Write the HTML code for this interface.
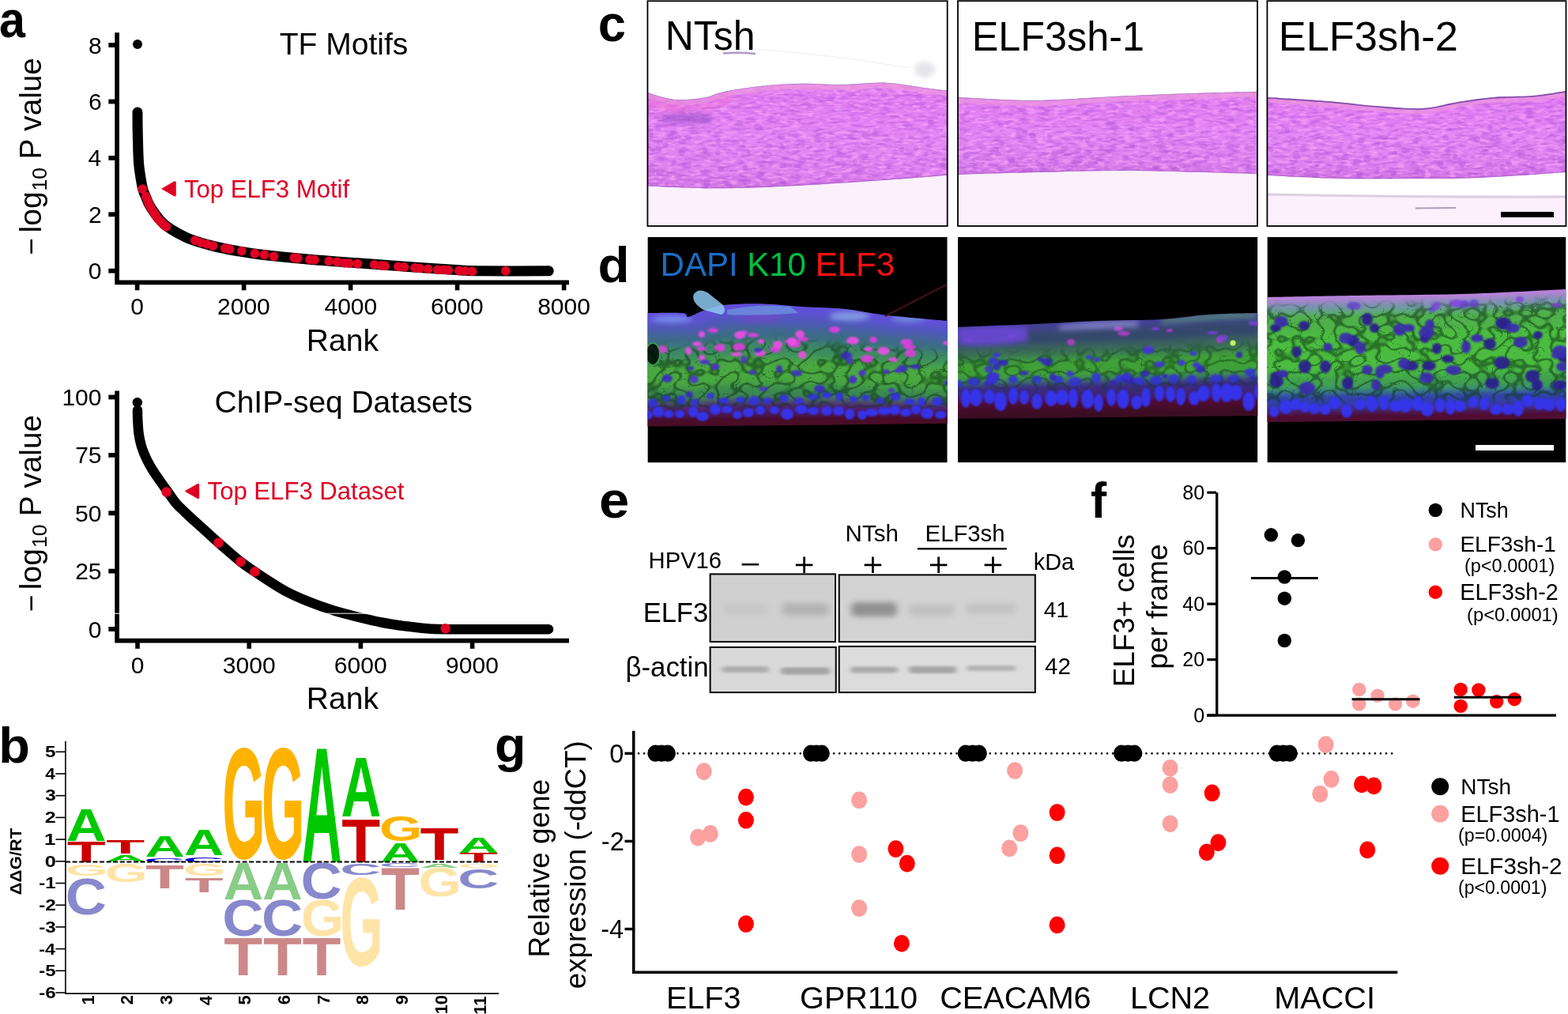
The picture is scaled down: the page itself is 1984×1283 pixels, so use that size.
<!DOCTYPE html>
<html><head><meta charset="utf-8"><title>Figure</title><style>
html,body{margin:0;padding:0;background:#fff;width:1984px;height:1283px;overflow:hidden}
svg{display:block}
text{font-family:"Liberation Sans",Arial,Helvetica,sans-serif}
</style></head><body>
<svg width="1984" height="1283" viewBox="0 0 1984 1283">
<rect width="1984" height="1283" fill="#fff"/>
<text transform="translate(-1.04,47.07) scale(0.5926,0.6443)" font-size="100" font-weight="bold" fill="#000">a</text>
<path d="M148.1,41.3V360.3M145.3,357.3H720" stroke="#000" stroke-width="5.7" fill="none"/>
<path d="M137.3,342.7H146" stroke="#000" stroke-width="5.8"/>
<text x="111.79" y="353.2" font-size="30">0</text>
<path d="M137.3,271.3H146" stroke="#000" stroke-width="5.8"/>
<text x="112.12" y="281.8" font-size="30">2</text>
<path d="M137.3,199.9H146" stroke="#000" stroke-width="5.8"/>
<text x="111.49" y="210.4" font-size="30">4</text>
<path d="M137.3,128.5H146" stroke="#000" stroke-width="5.8"/>
<text x="111.93" y="139" font-size="30">6</text>
<path d="M137.3,57.1H146" stroke="#000" stroke-width="5.8"/>
<text x="111.92" y="67.6" font-size="30">8</text>
<path d="M173.6,359V367.3" stroke="#000" stroke-width="5.6"/>
<text x="165.26" y="398.4" font-size="30">0</text>
<path d="M308.6,359V367.3" stroke="#000" stroke-width="5.6"/>
<text x="275.06" y="398.4" font-size="30">2000</text>
<path d="M443.6,359V367.3" stroke="#000" stroke-width="5.6"/>
<text x="410.47" y="398.4" font-size="30">4000</text>
<path d="M578.6,359V367.3" stroke="#000" stroke-width="5.6"/>
<text x="545.06" y="398.4" font-size="30">6000</text>
<path d="M713.6,359V367.3" stroke="#000" stroke-width="5.6"/>
<text x="680.16" y="398.4" font-size="30">8000</text>
<text x="387.85" y="444.3" font-size="39">Rank</text>
<text x="353.72" y="69.2" font-size="39">TF Motifs</text>
<text transform="translate(52.1,322.82) rotate(-90)" font-size="37">−</text>
<text transform="translate(52.1,294.43) rotate(-90)" font-size="39">log</text>
<text transform="translate(58.7,241.53) rotate(-90)" font-size="26.6">10</text>
<text transform="translate(52.1,201.57) rotate(-90)" font-size="38.7">P value</text>
<path d="M174,142 C174.02,145.17 173.97,153 174.1,161 C174.23,169 174.55,182.33 174.8,190 C175.05,197.67 175.15,201.67 175.6,207 C176.05,212.33 176.67,216.7 177.5,222 C178.33,227.3 179.43,234.3 180.6,238.8 C181.77,243.3 183.13,245.63 184.5,249 C185.87,252.37 186.98,255.62 188.8,259 C190.62,262.38 193.03,265.97 195.4,269.3 C197.77,272.63 200.48,276.23 203,279 C205.52,281.77 206.83,283.23 210.5,285.9 C214.17,288.57 219.97,292.22 225,295 C230.03,297.78 233.03,299.83 240.7,302.6 C248.37,305.37 261.12,309.12 271,311.6 C280.88,314.08 289.93,315.73 300,317.5 C310.07,319.27 316.08,320.4 331.4,322.2 C346.72,324 371.73,326.53 391.9,328.3 C412.07,330.07 432.23,331.3 452.4,332.8 C472.57,334.3 492.75,335.88 512.9,337.3 C533.05,338.72 558.18,340.38 573.3,341.3 C588.42,342.22 583.43,342.55 603.6,342.8 C623.77,343.05 679.18,342.8 694.3,342.8" stroke="#000" stroke-width="13" fill="none" stroke-linecap="round" stroke-linejoin="round"/>
<circle cx="174" cy="55.9" r="6"/>
<circle cx="180.24" cy="239.07" r="5.9" fill="#df0024"/>
<circle cx="184.77" cy="248.75" r="5.9" fill="#df0024"/>
<circle cx="186.89" cy="254.19" r="5.9" fill="#df0024"/>
<circle cx="188.71" cy="258.73" r="5.9" fill="#df0024"/>
<circle cx="191.12" cy="263.26" r="5.9" fill="#df0024"/>
<circle cx="193.85" cy="267.8" r="5.9" fill="#df0024"/>
<circle cx="196.87" cy="272.33" r="5.9" fill="#df0024"/>
<circle cx="199.89" cy="276.87" r="5.9" fill="#df0024"/>
<circle cx="203.83" cy="280.8" r="5.9" fill="#df0024"/>
<circle cx="208.06" cy="285.03" r="5.9" fill="#df0024"/>
<circle cx="210.48" cy="286.85" r="5.9" fill="#df0024"/>
<circle cx="246.76" cy="304.09" r="5.9" fill="#df0024"/>
<circle cx="254.32" cy="306.81" r="5.9" fill="#df0024"/>
<circle cx="261.88" cy="308.92" r="5.9" fill="#df0024"/>
<circle cx="269.44" cy="311.04" r="5.9" fill="#df0024"/>
<circle cx="284.56" cy="314.06" r="5.9" fill="#df0024"/>
<circle cx="290.61" cy="315.27" r="5.9" fill="#df0024"/>
<circle cx="305.73" cy="317.69" r="5.9" fill="#df0024"/>
<circle cx="322.36" cy="320.72" r="5.9" fill="#df0024"/>
<circle cx="334.46" cy="322.23" r="5.9" fill="#df0024"/>
<circle cx="346.55" cy="324.35" r="5.9" fill="#df0024"/>
<circle cx="372.26" cy="326.16" r="5.9" fill="#df0024"/>
<circle cx="376.79" cy="326.76" r="5.9" fill="#df0024"/>
<circle cx="391.91" cy="328.28" r="5.9" fill="#df0024"/>
<circle cx="397.96" cy="328.88" r="5.9" fill="#df0024"/>
<circle cx="416.1" cy="330.39" r="5.9" fill="#df0024"/>
<circle cx="426.69" cy="331.3" r="5.9" fill="#df0024"/>
<circle cx="435.76" cy="332.81" r="5.9" fill="#df0024"/>
<circle cx="441.81" cy="333.11" r="5.9" fill="#df0024"/>
<circle cx="452.39" cy="333.72" r="5.9" fill="#df0024"/>
<circle cx="473.56" cy="334.93" r="5.9" fill="#df0024"/>
<circle cx="482.63" cy="335.84" r="5.9" fill="#df0024"/>
<circle cx="487.16" cy="336.44" r="5.9" fill="#df0024"/>
<circle cx="503.79" cy="337.35" r="5.9" fill="#df0024"/>
<circle cx="511.35" cy="337.95" r="5.9" fill="#df0024"/>
<circle cx="524.96" cy="338.86" r="5.9" fill="#df0024"/>
<circle cx="531.01" cy="339.46" r="5.9" fill="#df0024"/>
<circle cx="541.59" cy="340.37" r="5.9" fill="#df0024"/>
<circle cx="553.69" cy="341.28" r="5.9" fill="#df0024"/>
<circle cx="561.25" cy="341.28" r="5.9" fill="#df0024"/>
<circle cx="567.3" cy="341.88" r="5.9" fill="#df0024"/>
<circle cx="580.9" cy="342.49" r="5.9" fill="#df0024"/>
<circle cx="588.46" cy="342.79" r="5.9" fill="#df0024"/>
<circle cx="597.54" cy="343.4" r="5.9" fill="#df0024"/>
<circle cx="639.87" cy="342.79" r="5.9" fill="#df0024"/>
<path d="M205.5,238.9L220.6,230.2Q222,229.5 222,231V246.8Q222,248.3 220.6,247.6Z" fill="#df0024" stroke="#df0024" stroke-width="1.5" stroke-linejoin="round"/>
<text x="233" y="249.6" font-size="31.1" fill="#df0024">Top ELF3 Motif</text>
<path d="M148.1,494.4V813.6M145.3,810.7H720" stroke="#000" stroke-width="5.7" fill="none"/>
<path d="M137.3,796H146" stroke="#000" stroke-width="5.8"/>
<text x="111.79" y="806.5" font-size="30">0</text>
<path d="M137.3,722.62H146" stroke="#000" stroke-width="5.8"/>
<text x="95.19" y="733.12" font-size="30">25</text>
<path d="M137.3,649.25H146" stroke="#000" stroke-width="5.8"/>
<text x="95.1" y="659.75" font-size="30">50</text>
<path d="M137.3,575.88H146" stroke="#000" stroke-width="5.8"/>
<text x="95.19" y="586.38" font-size="30">75</text>
<path d="M137.3,502.5H146" stroke="#000" stroke-width="5.8"/>
<text x="78.42" y="513" font-size="30">100</text>
<path d="M174,812V820.8" stroke="#000" stroke-width="5.6"/>
<text x="165.66" y="851.7" font-size="30">0</text>
<path d="M315.2,812V820.8" stroke="#000" stroke-width="5.6"/>
<text x="281.85" y="851.7" font-size="30">3000</text>
<path d="M456.4,812V820.8" stroke="#000" stroke-width="5.6"/>
<text x="422.86" y="851.7" font-size="30">6000</text>
<path d="M597.6,812V820.8" stroke="#000" stroke-width="5.6"/>
<text x="564.11" y="851.7" font-size="30">9000</text>
<text x="387.85" y="896.8" font-size="39">Rank</text>
<text x="271.62" y="522" font-size="38.9">ChIP-seq Datasets</text>
<text transform="translate(52.1,774.22) rotate(-90)" font-size="37">−</text>
<text transform="translate(52.1,746.13) rotate(-90)" font-size="39">log</text>
<text transform="translate(58.7,693.03) rotate(-90)" font-size="26.6">10</text>
<text transform="translate(52.1,653.37) rotate(-90)" font-size="38.7">P value</text>
<path d="M174,519 C174.03,520.83 173.95,525.17 174.2,530 C174.45,534.83 174.78,542.5 175.5,548 C176.22,553.5 177.35,558.67 178.5,563 C179.65,567.33 180.98,570.5 182.4,574 C183.82,577.5 185.32,580.72 187,584 C188.68,587.28 190.33,590.2 192.5,593.7 C194.67,597.2 196.97,600.62 200,605 C203.03,609.38 206.88,614.67 210.7,620 C214.52,625.33 219.18,632.5 222.9,637 C226.62,641.5 229.62,643.73 233,647 C236.38,650.27 238.13,651.97 243.2,656.6 C248.27,661.23 256.65,668.73 263.4,674.8 C270.15,680.87 276.9,687.05 283.7,693 C290.5,698.95 297.75,705.43 304.2,710.5 C310.65,715.57 316.43,719.32 322.4,723.4 C328.37,727.48 333.45,730.87 340,735 C346.55,739.13 353.37,743.87 361.7,748.2 C370.03,752.53 379.95,756.97 390,761 C400.05,765.03 411.67,769.15 422,772.4 C432.33,775.65 441.9,777.98 452,780.5 C462.1,783.02 472.43,785.53 482.6,787.5 C492.77,789.47 502.93,790.97 513,792.3 C523.07,793.63 533.5,794.85 543,795.5 C552.5,796.15 544.83,796.08 570,796.2 C595.17,796.32 673.33,796.2 694,796.2" stroke="#000" stroke-width="12.5" fill="none" stroke-linecap="round" stroke-linejoin="round"/>
<circle cx="173.8" cy="509.2" r="6.2"/>
<path d="M140,776.2H480" stroke="#fff" stroke-width="1"/>
<circle cx="210.6" cy="622.5" r="6.3" fill="#df0024"/>
<circle cx="276.5" cy="686.8" r="6.3" fill="#df0024"/>
<circle cx="304.4" cy="710.9" r="6.3" fill="#df0024"/>
<circle cx="322.4" cy="723.4" r="6.3" fill="#df0024"/>
<circle cx="563.7" cy="795.2" r="6.3" fill="#df0024"/>
<path d="M235,621.5L250,612.8Q251.4,612 251.4,613.6V629.4Q251.4,631 250,630.2Z" fill="#df0024" stroke="#df0024" stroke-width="1.5" stroke-linejoin="round"/>
<text x="262.6" y="632.4" font-size="31.1" fill="#df0024">Top ELF3 Dataset</text>
<text transform="translate(-1.68,964.59) scale(0.6489,0.6277)" font-size="100" font-weight="bold" fill="#000">b</text>
<path d="M82.9,937.8V1257.6M82.2,1257.1H631.2" stroke="#000" stroke-width="1.6" fill="none"/>
<path d="M70.4,1256H83" stroke="#000" stroke-width="1.6"/>
<text transform="translate(49.15,1262.71) scale(0.2420,0.1992)" font-size="100" font-weight="bold" fill="#000">-6</text>
<path d="M70.4,1228.3H83" stroke="#000" stroke-width="1.6"/>
<text transform="translate(49.16,1235) scale(0.2396,0.2021)" font-size="100" font-weight="bold" fill="#000">-5</text>
<path d="M70.4,1200.6H83" stroke="#000" stroke-width="1.6"/>
<text transform="translate(49.19,1207.5) scale(0.2332,0.2049)" font-size="100" font-weight="bold" fill="#000">-4</text>
<path d="M70.4,1172.9H83" stroke="#000" stroke-width="1.6"/>
<text transform="translate(49.15,1179.58) scale(0.2420,0.1987)" font-size="100" font-weight="bold" fill="#000">-3</text>
<path d="M70.4,1145.2H83" stroke="#000" stroke-width="1.6"/>
<text transform="translate(49.15,1152.1) scale(0.2432,0.2019)" font-size="100" font-weight="bold" fill="#000">-2</text>
<path d="M70.4,1117.5H83" stroke="#000" stroke-width="1.6"/>
<text transform="translate(49.16,1124.4) scale(0.2396,0.2049)" font-size="100" font-weight="bold" fill="#000">-1</text>
<path d="M70.4,1089.8H83" stroke="#000" stroke-width="1.6"/>
<text transform="translate(56.69,1096.51) scale(0.2544,0.1992)" font-size="100" font-weight="bold" fill="#000">0</text>
<path d="M70.4,1062.1H83" stroke="#000" stroke-width="1.6"/>
<text transform="translate(56.06,1069) scale(0.2600,0.2049)" font-size="100" font-weight="bold" fill="#000">1</text>
<path d="M70.4,1034.4H83" stroke="#000" stroke-width="1.6"/>
<text transform="translate(56.83,1041.3) scale(0.2513,0.2019)" font-size="100" font-weight="bold" fill="#000">2</text>
<path d="M70.4,1006.7H83" stroke="#000" stroke-width="1.6"/>
<text transform="translate(57.14,1013.38) scale(0.2434,0.1987)" font-size="100" font-weight="bold" fill="#000">3</text>
<path d="M70.4,979H83" stroke="#000" stroke-width="1.6"/>
<text transform="translate(57.36,985.9) scale(0.2259,0.2049)" font-size="100" font-weight="bold" fill="#000">4</text>
<path d="M70.4,951.3H83" stroke="#000" stroke-width="1.6"/>
<text transform="translate(56.95,958) scale(0.2432,0.2021)" font-size="100" font-weight="bold" fill="#000">5</text>
<text transform="translate(27.4,1132.5) rotate(-90) scale(0.2220,0.2014)" font-size="100" font-weight="bold">ΔΔG/RT</text>
<text transform="translate(83.85,1063.8) scale(0.7035,0.5741)" font-size="100" font-weight="bold" fill="#00c800">A</text>
<text transform="translate(84.7,1090.6) scale(0.8015,0.3619)" font-size="100" font-weight="bold" fill="#cc0000">T</text>
<text transform="translate(82.73,1107.6) scale(0.6995,0.2090)" font-size="100" font-weight="bold" fill="#ffe4a8">G</text>
<text transform="translate(82.64,1156.56) scale(0.7219,0.6539)" font-size="100" font-weight="bold" fill="#8888cc">C</text>
<text transform="translate(134.35,1079.7) scale(0.8015,0.2311)" font-size="100" font-weight="bold" fill="#cc0000">T</text>
<text transform="translate(133.5,1089.8) scale(0.7035,0.1134)" font-size="100" font-weight="bold" fill="#00c800">A</text>
<text transform="translate(132.38,1115.98) scale(0.6995,0.3291)" font-size="100" font-weight="bold" fill="#ffe4a8">G</text>
<text transform="translate(183.15,1084.4) scale(0.7035,0.3677)" font-size="100" font-weight="bold" fill="#00c800">A</text>
<text transform="translate(181.94,1090.53) scale(0.7219,0.0763)" font-size="100" font-weight="bold" fill="#0000cc">C</text>
<text transform="translate(184,1124.1) scale(0.8015,0.4302)" font-size="100" font-weight="bold" fill="#cc8888">T</text>
<text transform="translate(232.8,1082) scale(0.7035,0.4535)" font-size="100" font-weight="bold" fill="#00c800">A</text>
<text transform="translate(231.59,1090.5) scale(0.7219,0.0989)" font-size="100" font-weight="bold" fill="#0000cc">C</text>
<text transform="translate(231.68,1108.29) scale(0.6995,0.2189)" font-size="100" font-weight="bold" fill="#ffe4a8">G</text>
<text transform="translate(233.65,1129.4) scale(0.8015,0.2631)" font-size="100" font-weight="bold" fill="#cc8888">T</text>
<text transform="translate(281.33,1085.95) scale(0.6995,2.0000)" font-size="100" font-weight="bold" fill="#ffb300">G</text>
<text transform="translate(282.45,1137.5) scale(0.7035,0.6686)" font-size="100" font-weight="bold" fill="#88cc88">A</text>
<text transform="translate(281.24,1184.37) scale(0.7219,0.6469)" font-size="100" font-weight="bold" fill="#8888cc">C</text>
<text transform="translate(283.3,1234.2) scale(0.8015,0.6904)" font-size="100" font-weight="bold" fill="#cc8888">T</text>
<text transform="translate(330.98,1085.95) scale(0.6995,2.0000)" font-size="100" font-weight="bold" fill="#ffb300">G</text>
<text transform="translate(332.1,1137.5) scale(0.7035,0.6686)" font-size="100" font-weight="bold" fill="#88cc88">A</text>
<text transform="translate(330.89,1184.37) scale(0.7219,0.6469)" font-size="100" font-weight="bold" fill="#8888cc">C</text>
<text transform="translate(332.95,1234.2) scale(0.8015,0.6904)" font-size="100" font-weight="bold" fill="#cc8888">T</text>
<text transform="translate(381.75,1090.6) scale(0.7035,2.0713)" font-size="100" font-weight="bold" fill="#00c800">A</text>
<text transform="translate(380.54,1136.87) scale(0.7219,0.6441)" font-size="100" font-weight="bold" fill="#8888cc">C</text>
<text transform="translate(380.63,1184.37) scale(0.6995,0.6469)" font-size="100" font-weight="bold" fill="#ffe4a8">G</text>
<text transform="translate(382.6,1234.2) scale(0.8015,0.6904)" font-size="100" font-weight="bold" fill="#cc8888">T</text>
<text transform="translate(431.4,1033.1) scale(0.7035,1.0843)" font-size="100" font-weight="bold" fill="#00c800">A</text>
<text transform="translate(432.25,1090.6) scale(0.8015,0.7776)" font-size="100" font-weight="bold" fill="#cc0000">T</text>
<text transform="translate(430.19,1106.7) scale(0.7219,0.2048)" font-size="100" font-weight="bold" fill="#8888cc">C</text>
<text transform="translate(430.28,1221.14) scale(0.6995,1.5960)" font-size="100" font-weight="bold" fill="#ffe4a8">G</text>
<text transform="translate(479.93,1063.86) scale(0.6995,0.4491)" font-size="100" font-weight="bold" fill="#ffb300">G</text>
<text transform="translate(481.05,1090.6) scale(0.7035,0.3503)" font-size="100" font-weight="bold" fill="#00c800">A</text>
<text transform="translate(479.84,1096.94) scale(0.7219,0.0650)" font-size="100" font-weight="bold" fill="#8888cc">C</text>
<text transform="translate(481.9,1150.7) scale(0.8015,0.7544)" font-size="100" font-weight="bold" fill="#cc8888">T</text>
<text transform="translate(531.55,1087.9) scale(0.8015,0.5800)" font-size="100" font-weight="bold" fill="#cc0000">T</text>
<text transform="translate(530.7,1097.8) scale(0.7035,0.0785)" font-size="100" font-weight="bold" fill="#88cc88">A</text>
<text transform="translate(529.58,1133.8) scale(0.6995,0.5099)" font-size="100" font-weight="bold" fill="#ffe4a8">G</text>
<text transform="translate(580.35,1078.8) scale(0.7035,0.2849)" font-size="100" font-weight="bold" fill="#00c800">A</text>
<text transform="translate(581.2,1090.6) scale(0.8015,0.1584)" font-size="100" font-weight="bold" fill="#cc0000">T</text>
<text transform="translate(579.23,1097.74) scale(0.6995,0.0636)" font-size="100" font-weight="bold" fill="#ffe4a8">G</text>
<text transform="translate(579.14,1124.06) scale(0.7219,0.3475)" font-size="100" font-weight="bold" fill="#8888cc">C</text>
<path d="M83,1090.4H630" stroke="#000" stroke-width="2" stroke-dasharray="6,2.6"/>
<text transform="translate(118.7,1271.42) rotate(-90)" font-size="22" font-weight="bold">1</text>
<text transform="translate(168.35,1271.15) rotate(-90)" font-size="22" font-weight="bold">2</text>
<text transform="translate(218,1271.24) rotate(-90)" font-size="22" font-weight="bold">3</text>
<text transform="translate(267.65,1271.92) rotate(-90)" font-size="22" font-weight="bold">4</text>
<text transform="translate(317.3,1271.42) rotate(-90)" font-size="22" font-weight="bold">5</text>
<text transform="translate(366.95,1271.24) rotate(-90)" font-size="22" font-weight="bold">6</text>
<text transform="translate(416.6,1271.07) rotate(-90)" font-size="22" font-weight="bold">7</text>
<text transform="translate(466.25,1271.36) rotate(-90)" font-size="22" font-weight="bold">8</text>
<text transform="translate(515.9,1271.22) rotate(-90)" font-size="22" font-weight="bold">9</text>
<text transform="translate(565.55,1283.37) rotate(-90)" font-size="22" font-weight="bold">10</text>
<text transform="translate(615.2,1283.66) rotate(-90)" font-size="22" font-weight="bold">11</text>
<defs><filter id="heP" x="0" y="0" width="1" height="1" color-interpolation-filters="sRGB">
<feTurbulence type="fractalNoise" baseFrequency="0.07 0.26" numOctaves="2" seed="4"/>
<feColorMatrix type="matrix" values="0 0 0 0 0.70  0 0 0 0 0.34  0 0 0 0 0.84  4 0 0 0 -1.75"/></filter>
<filter id="heL" x="0" y="0" width="1" height="1" color-interpolation-filters="sRGB">
<feTurbulence type="fractalNoise" baseFrequency="0.09 0.3" numOctaves="2" seed="9"/>
<feColorMatrix type="matrix" values="0 0 0 0 0.97  0 0 0 0 0.64  0 0 0 0 0.99  4 0 0 0 -1.9"/></filter>
<filter id="ifG" x="0" y="0" width="1" height="1" color-interpolation-filters="sRGB">
<feTurbulence type="turbulence" baseFrequency="0.055 0.07" numOctaves="1" seed="5"/>
<feColorMatrix type="matrix" values="0 0 0 0 0.05  0 0 0 0 0.22  0 0 0 0 0.08  -9 0 0 0 1.3"/></filter>
<filter id="ifD" x="0" y="0" width="1" height="1" color-interpolation-filters="sRGB">
<feTurbulence type="fractalNoise" baseFrequency="0.09 0.11" numOctaves="2" seed="7"/>
<feColorMatrix type="matrix" values="0 0 0 0 0.05  0 0 0 0 0.2  0 0 0 0 0.1  4 0 0 0 -1.8"/></filter>
<filter id="soft"><feGaussianBlur stdDeviation="1"/></filter>
<filter id="bl3" x="-20%" y="-50%" width="140%" height="200%"><feGaussianBlur stdDeviation="3"/></filter>
<filter id="bl5" x="-5%" y="-20%" width="110%" height="140%"><feGaussianBlur stdDeviation="5"/></filter></defs>
<text transform="translate(756.63,52.16) scale(0.6335,0.6516)" font-size="100" font-weight="bold" fill="#000">c</text>
<clipPath id="cc1"><rect x="819.4" y="1.3" width="379.3" height="284.7"/></clipPath>
<g clip-path="url(#cc1)">
<rect x="819.4" y="1.3" width="379.3" height="284.7" fill="#fff"/>
<rect x="819.4" y="215.8" width="379.3" height="70.2" fill="#fbf0fb"/>
<path d="M915,67.5 Q935,66 956,68" stroke="#9a80c0" stroke-width="2.5" fill="none" opacity="0.8"/><ellipse cx="1170" cy="88" rx="13" ry="10" fill="#d8d8e0" opacity="0.7" filter="url(#bl3)"/><path d="M955,62 Q1060,70 1150,86" stroke="#f2f2f5" stroke-width="1.5" fill="none"/>
<linearGradient id="hg1" x1="0" y1="0" x2="0" y2="1"><stop offset="0" stop-color="#ee90f0"/><stop offset="0.12" stop-color="#e27cf2"/><stop offset="0.5" stop-color="#e486f6"/><stop offset="0.85" stop-color="#de82f0"/><stop offset="1" stop-color="#d074e4"/></linearGradient>
<path d="M819,117 C824.73,118.5 841.37,124.92 853.4,126 C865.43,127.08 880.7,125.17 891.2,123.5 C901.7,121.83 903.8,118.52 916.4,116 C929,113.48 950,110.1 966.8,108.4 C983.6,106.7 1000.4,106.02 1017.2,105.8 C1034,105.58 1050.8,107.3 1067.6,107.1 C1084.4,106.9 1101.2,103.97 1118,104.6 C1134.8,105.23 1154.9,109.22 1168.4,110.9 C1181.9,112.58 1193.9,114.07 1199,114.7 L1199,221.8 C1185.5,222.85 1144.1,226.22 1118,228.1 C1091.9,229.98 1067.6,231.63 1042.4,233.1 C1017.2,234.57 992,236.05 966.8,236.9 C941.6,237.75 915.83,238.42 891.2,238.2 C866.57,237.98 831.03,236.03 819,235.6Z" fill="url(#hg1)"/>
<clipPath id="tc1"><path d="M819,117 C824.73,118.5 841.37,124.92 853.4,126 C865.43,127.08 880.7,125.17 891.2,123.5 C901.7,121.83 903.8,118.52 916.4,116 C929,113.48 950,110.1 966.8,108.4 C983.6,106.7 1000.4,106.02 1017.2,105.8 C1034,105.58 1050.8,107.3 1067.6,107.1 C1084.4,106.9 1101.2,103.97 1118,104.6 C1134.8,105.23 1154.9,109.22 1168.4,110.9 C1181.9,112.58 1193.9,114.07 1199,114.7 L1199,221.8 C1185.5,222.85 1144.1,226.22 1118,228.1 C1091.9,229.98 1067.6,231.63 1042.4,233.1 C1017.2,234.57 992,236.05 966.8,236.9 C941.6,237.75 915.83,238.42 891.2,238.2 C866.57,237.98 831.03,236.03 819,235.6Z"/></clipPath><g clip-path="url(#tc1)">
<rect x="819.4" y="104.6" width="379.3" height="133.6" filter="url(#heP)" opacity="0.5"/>
<rect x="819.4" y="104.6" width="379.3" height="133.6" filter="url(#heL)" opacity="0.7"/>
<g fill="#a850d0" opacity="0.3"><ellipse cx="991" cy="207" rx="4" ry="3"/><ellipse cx="1012" cy="208" rx="3" ry="4"/><ellipse cx="1000" cy="210" rx="3" ry="2"/><ellipse cx="989" cy="173" rx="5" ry="4"/><ellipse cx="1060" cy="207" rx="4" ry="3"/><ellipse cx="1067" cy="208" rx="3" ry="4"/><ellipse cx="825" cy="208" rx="3" ry="2"/><ellipse cx="892" cy="191" rx="3" ry="3"/><ellipse cx="943" cy="212" rx="3" ry="4"/><ellipse cx="908" cy="193" rx="3" ry="4"/><ellipse cx="852" cy="218" rx="4" ry="4"/><ellipse cx="1197" cy="213" rx="5" ry="3"/><ellipse cx="939" cy="185" rx="4" ry="2"/><ellipse cx="846" cy="223" rx="4" ry="2"/><ellipse cx="1141" cy="189" rx="3" ry="4"/><ellipse cx="820" cy="184" rx="3" ry="3"/><ellipse cx="962" cy="218" rx="4" ry="2"/><ellipse cx="1034" cy="177" rx="5" ry="3"/><ellipse cx="947" cy="192" rx="3" ry="3"/><ellipse cx="1107" cy="166" rx="3" ry="4"/><ellipse cx="858" cy="173" rx="4" ry="2"/><ellipse cx="1078" cy="175" rx="5" ry="2"/><ellipse cx="1193" cy="209" rx="4" ry="4"/><ellipse cx="965" cy="197" rx="3" ry="2"/><ellipse cx="922" cy="234" rx="5" ry="3"/><ellipse cx="1198" cy="154" rx="3" ry="3"/><ellipse cx="1197" cy="201" rx="5" ry="2"/><ellipse cx="835" cy="180" rx="4" ry="3"/><ellipse cx="823" cy="213" rx="4" ry="3"/><ellipse cx="847" cy="176" rx="5" ry="4"/><ellipse cx="912" cy="214" rx="4" ry="4"/><ellipse cx="991" cy="231" rx="4" ry="4"/><ellipse cx="871" cy="202" rx="5" ry="2"/><ellipse cx="937" cy="185" rx="5" ry="2"/><ellipse cx="1095" cy="171" rx="5" ry="4"/><ellipse cx="894" cy="233" rx="4" ry="4"/><ellipse cx="849" cy="171" rx="3" ry="2"/><ellipse cx="1014" cy="183" rx="5" ry="4"/><ellipse cx="968" cy="199" rx="5" ry="3"/><ellipse cx="931" cy="181" rx="5" ry="2"/><ellipse cx="867" cy="208" rx="5" ry="4"/><ellipse cx="1052" cy="184" rx="3" ry="4"/><ellipse cx="826" cy="190" rx="4" ry="2"/><ellipse cx="842" cy="184" rx="4" ry="4"/><ellipse cx="1036" cy="170" rx="4" ry="2"/><ellipse cx="1157" cy="222" rx="5" ry="4"/><ellipse cx="1082" cy="205" rx="3" ry="4"/><ellipse cx="833" cy="162" rx="4" ry="4"/><ellipse cx="938" cy="161" rx="5" ry="4"/><ellipse cx="848" cy="173" rx="4" ry="3"/><ellipse cx="871" cy="174" rx="4" ry="4"/><ellipse cx="959" cy="161" rx="5" ry="4"/><ellipse cx="1086" cy="217" rx="4" ry="3"/><ellipse cx="852" cy="207" rx="3" ry="3"/><ellipse cx="1178" cy="155" rx="4" ry="4"/><ellipse cx="825" cy="216" rx="4" ry="4"/><ellipse cx="824" cy="170" rx="3" ry="4"/><ellipse cx="863" cy="193" rx="4" ry="4"/><ellipse cx="945" cy="231" rx="5" ry="4"/><ellipse cx="993" cy="201" rx="5" ry="2"/><ellipse cx="1016" cy="203" rx="4" ry="4"/><ellipse cx="853" cy="167" rx="5" ry="2"/><ellipse cx="1008" cy="210" rx="4" ry="3"/><ellipse cx="1159" cy="187" rx="3" ry="4"/><ellipse cx="1051" cy="202" rx="4" ry="4"/><ellipse cx="1172" cy="195" rx="3" ry="3"/><ellipse cx="973" cy="185" rx="5" ry="3"/><ellipse cx="1124" cy="212" rx="3" ry="2"/><ellipse cx="965" cy="210" rx="4" ry="2"/><ellipse cx="871" cy="209" rx="3" ry="4"/><ellipse cx="844" cy="233" rx="3" ry="2"/><ellipse cx="990" cy="186" rx="3" ry="3"/><ellipse cx="965" cy="206" rx="5" ry="3"/><ellipse cx="1091" cy="219" rx="5" ry="3"/><ellipse cx="941" cy="226" rx="4" ry="4"/><ellipse cx="835" cy="219" rx="5" ry="3"/><ellipse cx="937" cy="224" rx="3" ry="4"/><ellipse cx="871" cy="206" rx="3" ry="3"/><ellipse cx="909" cy="179" rx="3" ry="4"/><ellipse cx="863" cy="179" rx="5" ry="4"/><ellipse cx="1062" cy="191" rx="3" ry="4"/><ellipse cx="895" cy="227" rx="4" ry="2"/><ellipse cx="1090" cy="214" rx="5" ry="4"/><ellipse cx="833" cy="188" rx="4" ry="4"/></g>
<path d="M819,117 C824.73,118.5 841.37,124.92 853.4,126 C865.43,127.08 880.7,125.17 891.2,123.5 C901.7,121.83 903.8,118.52 916.4,116 C929,113.48 950,110.1 966.8,108.4 C983.6,106.7 1000.4,106.02 1017.2,105.8 C1034,105.58 1050.8,107.3 1067.6,107.1 C1084.4,106.9 1101.2,103.97 1118,104.6 C1134.8,105.23 1154.9,109.22 1168.4,110.9 C1181.9,112.58 1193.9,114.07 1199,114.7" stroke="#ec96e0" stroke-width="6" fill="none" opacity="0.7" transform="translate(0,4)"/>
<path d="M819,117 C824.73,118.5 841.37,124.92 853.4,126 C865.43,127.08 880.7,125.17 891.2,123.5 C901.7,121.83 903.8,118.52 916.4,116 C929,113.48 950,110.1 966.8,108.4 C983.6,106.7 1000.4,106.02 1017.2,105.8 C1034,105.58 1050.8,107.3 1067.6,107.1 C1084.4,106.9 1101.2,103.97 1118,104.6 C1134.8,105.23 1154.9,109.22 1168.4,110.9 C1181.9,112.58 1193.9,114.07 1199,114.7" stroke="#a08ab0" stroke-width="1.4" fill="none" opacity="0.85"/>
<g filter="url(#bl3)"><path d="M819,122 Q850,132 880,133 Q905,128 930,118 L930,128 Q900,140 860,142 Q835,140 819,134Z" fill="#f070d0" opacity="0.5"/><ellipse cx="868" cy="150" rx="36" ry="7" fill="#8a40c0" opacity="0.5"/></g>
<path d="M819,235.6 C831.03,236.03 866.57,237.98 891.2,238.2 C915.83,238.42 941.6,237.75 966.8,236.9 C992,236.05 1017.2,234.57 1042.4,233.1 C1067.6,231.63 1091.9,229.98 1118,228.1 C1144.1,226.22 1185.5,222.85 1199,221.8" stroke="#9a58b8" stroke-width="2.5" fill="none" opacity="0.5"/>
</g></g>
<rect x="819.4" y="1.3" width="379.3" height="284.7" fill="none" stroke="#000" stroke-width="1.8"/>
<text transform="translate(841.81,63.49) scale(0.4991,0.5188)" font-size="100" fill="#000">NTsh</text>
<clipPath id="cc2"><rect x="1212" y="1.2" width="379" height="284.8"/></clipPath>
<g clip-path="url(#cc2)">
<rect x="1212" y="1.2" width="379" height="284.8" fill="#fff"/>
<rect x="1212" y="210" width="379" height="76" fill="#fbf0fb"/>

<linearGradient id="hg2" x1="0" y1="0" x2="0" y2="1"><stop offset="0" stop-color="#ee90f0"/><stop offset="0.12" stop-color="#e27cf2"/><stop offset="0.5" stop-color="#e486f6"/><stop offset="0.85" stop-color="#de82f0"/><stop offset="1" stop-color="#d074e4"/></linearGradient>
<path d="M1211,123 C1227.5,123.67 1276.83,127.17 1310,127 C1343.17,126.83 1376.67,123.5 1410,122 C1443.33,120.5 1479.67,119 1510,118 C1540.33,117 1578.33,116.33 1592,116 L1592,220 C1565,219.33 1477,216.33 1430,216 C1383,215.67 1346.5,217.17 1310,218 C1273.5,218.83 1227.5,220.5 1211,221Z" fill="url(#hg2)"/>
<clipPath id="tc2"><path d="M1211,123 C1227.5,123.67 1276.83,127.17 1310,127 C1343.17,126.83 1376.67,123.5 1410,122 C1443.33,120.5 1479.67,119 1510,118 C1540.33,117 1578.33,116.33 1592,116 L1592,220 C1565,219.33 1477,216.33 1430,216 C1383,215.67 1346.5,217.17 1310,218 C1273.5,218.83 1227.5,220.5 1211,221Z"/></clipPath><g clip-path="url(#tc2)">
<rect x="1212" y="116" width="379" height="105" filter="url(#heP)" opacity="0.5"/>
<rect x="1212" y="116" width="379" height="105" filter="url(#heL)" opacity="0.7"/>
<g fill="#a850d0" opacity="0.3"><ellipse cx="1392" cy="201" rx="5" ry="3"/><ellipse cx="1266" cy="158" rx="4" ry="3"/><ellipse cx="1316" cy="209" rx="5" ry="4"/><ellipse cx="1298" cy="155" rx="5" ry="2"/><ellipse cx="1583" cy="186" rx="4" ry="2"/><ellipse cx="1234" cy="211" rx="3" ry="4"/><ellipse cx="1472" cy="183" rx="4" ry="2"/><ellipse cx="1219" cy="165" rx="5" ry="4"/><ellipse cx="1297" cy="216" rx="4" ry="3"/><ellipse cx="1255" cy="192" rx="3" ry="4"/><ellipse cx="1330" cy="200" rx="3" ry="4"/><ellipse cx="1548" cy="196" rx="5" ry="2"/><ellipse cx="1364" cy="190" rx="5" ry="3"/><ellipse cx="1393" cy="187" rx="3" ry="4"/><ellipse cx="1487" cy="214" rx="5" ry="3"/><ellipse cx="1347" cy="187" rx="5" ry="3"/><ellipse cx="1467" cy="167" rx="3" ry="3"/><ellipse cx="1350" cy="195" rx="5" ry="2"/><ellipse cx="1223" cy="211" rx="4" ry="2"/><ellipse cx="1409" cy="176" rx="4" ry="2"/><ellipse cx="1359" cy="206" rx="3" ry="4"/><ellipse cx="1296" cy="168" rx="4" ry="2"/><ellipse cx="1376" cy="193" rx="5" ry="4"/><ellipse cx="1487" cy="193" rx="4" ry="2"/><ellipse cx="1341" cy="192" rx="5" ry="3"/><ellipse cx="1303" cy="216" rx="4" ry="4"/><ellipse cx="1350" cy="176" rx="5" ry="2"/><ellipse cx="1558" cy="151" rx="4" ry="3"/><ellipse cx="1280" cy="209" rx="5" ry="2"/><ellipse cx="1306" cy="171" rx="4" ry="4"/><ellipse cx="1403" cy="157" rx="4" ry="4"/><ellipse cx="1527" cy="200" rx="3" ry="4"/><ellipse cx="1402" cy="192" rx="4" ry="3"/><ellipse cx="1471" cy="190" rx="5" ry="2"/><ellipse cx="1382" cy="199" rx="3" ry="3"/><ellipse cx="1337" cy="210" rx="5" ry="4"/><ellipse cx="1381" cy="207" rx="5" ry="3"/><ellipse cx="1409" cy="158" rx="3" ry="4"/><ellipse cx="1222" cy="199" rx="4" ry="3"/><ellipse cx="1264" cy="178" rx="4" ry="2"/><ellipse cx="1424" cy="198" rx="4" ry="2"/><ellipse cx="1370" cy="198" rx="4" ry="2"/><ellipse cx="1432" cy="184" rx="4" ry="4"/><ellipse cx="1491" cy="196" rx="3" ry="4"/><ellipse cx="1481" cy="211" rx="3" ry="2"/><ellipse cx="1557" cy="195" rx="4" ry="2"/><ellipse cx="1481" cy="173" rx="4" ry="4"/><ellipse cx="1472" cy="192" rx="5" ry="2"/><ellipse cx="1292" cy="200" rx="5" ry="3"/><ellipse cx="1432" cy="163" rx="4" ry="3"/><ellipse cx="1243" cy="187" rx="5" ry="2"/><ellipse cx="1485" cy="182" rx="3" ry="4"/><ellipse cx="1462" cy="212" rx="4" ry="2"/><ellipse cx="1223" cy="196" rx="4" ry="3"/><ellipse cx="1280" cy="203" rx="4" ry="3"/><ellipse cx="1302" cy="186" rx="3" ry="2"/><ellipse cx="1577" cy="186" rx="3" ry="4"/><ellipse cx="1376" cy="177" rx="3" ry="4"/><ellipse cx="1554" cy="183" rx="5" ry="3"/><ellipse cx="1359" cy="194" rx="5" ry="2"/><ellipse cx="1386" cy="206" rx="3" ry="2"/><ellipse cx="1366" cy="203" rx="4" ry="4"/><ellipse cx="1467" cy="201" rx="3" ry="4"/><ellipse cx="1428" cy="182" rx="5" ry="2"/><ellipse cx="1334" cy="195" rx="4" ry="4"/><ellipse cx="1328" cy="172" rx="3" ry="4"/><ellipse cx="1263" cy="195" rx="4" ry="3"/><ellipse cx="1320" cy="214" rx="5" ry="3"/><ellipse cx="1359" cy="210" rx="5" ry="3"/><ellipse cx="1268" cy="182" rx="3" ry="4"/><ellipse cx="1443" cy="206" rx="4" ry="3"/><ellipse cx="1446" cy="179" rx="4" ry="3"/><ellipse cx="1399" cy="212" rx="3" ry="2"/><ellipse cx="1511" cy="209" rx="3" ry="3"/><ellipse cx="1410" cy="161" rx="5" ry="4"/><ellipse cx="1523" cy="185" rx="5" ry="3"/><ellipse cx="1504" cy="210" rx="4" ry="2"/><ellipse cx="1496" cy="210" rx="5" ry="3"/><ellipse cx="1228" cy="211" rx="3" ry="2"/><ellipse cx="1287" cy="209" rx="3" ry="2"/><ellipse cx="1505" cy="195" rx="3" ry="4"/><ellipse cx="1557" cy="186" rx="4" ry="4"/><ellipse cx="1288" cy="170" rx="3" ry="4"/><ellipse cx="1260" cy="190" rx="4" ry="4"/></g>
<path d="M1211,123 C1227.5,123.67 1276.83,127.17 1310,127 C1343.17,126.83 1376.67,123.5 1410,122 C1443.33,120.5 1479.67,119 1510,118 C1540.33,117 1578.33,116.33 1592,116" stroke="#ec96e0" stroke-width="6" fill="none" opacity="0.7" transform="translate(0,4)"/>
<path d="M1211,123 C1227.5,123.67 1276.83,127.17 1310,127 C1343.17,126.83 1376.67,123.5 1410,122 C1443.33,120.5 1479.67,119 1510,118 C1540.33,117 1578.33,116.33 1592,116" stroke="#a08ab0" stroke-width="1.4" fill="none" opacity="0.85"/>

<path d="M1211,221 C1227.5,220.5 1273.5,218.83 1310,218 C1346.5,217.17 1383,215.67 1430,216 C1477,216.33 1565,219.33 1592,220" stroke="#9a58b8" stroke-width="2.5" fill="none" opacity="0.5"/>
</g></g>
<rect x="1212" y="1.2" width="379" height="284.8" fill="none" stroke="#000" stroke-width="1.8"/>
<text transform="translate(1229.77,64.09) scale(0.5035,0.5188)" font-size="100" fill="#000">ELF3sh-1</text>
<clipPath id="cc3"><rect x="1603.4" y="1.2" width="378.1" height="284.8"/></clipPath>
<g clip-path="url(#cc3)">
<rect x="1603.4" y="1.2" width="378.1" height="284.8" fill="#fff"/>
<rect x="1603.4" y="247" width="378.1" height="39" fill="#fbf0fb"/>
<path d="M1603,246 Q1800,250 1982,249" stroke="#dcd0e0" stroke-width="3" fill="none"/><path d="M1791,263.5 L1842,263" stroke="#8a7a9a" stroke-width="2" opacity="0.7"/>
<linearGradient id="hg3" x1="0" y1="0" x2="0" y2="1"><stop offset="0" stop-color="#ee90f0"/><stop offset="0.12" stop-color="#e27cf2"/><stop offset="0.5" stop-color="#e486f6"/><stop offset="0.85" stop-color="#de82f0"/><stop offset="1" stop-color="#d074e4"/></linearGradient>
<path d="M1603,123 C1615.83,123.83 1657.17,126.17 1680,128 C1702.83,129.83 1720,132.5 1740,134 C1760,135.5 1782.5,137.83 1800,137 C1817.5,136.17 1830,131.33 1845,129 C1860,126.67 1874.17,124.33 1890,123 C1905.83,121.67 1924.67,122.33 1940,121 C1955.33,119.67 1975,116 1982,115 L1982,218 C1963.5,219.17 1902.33,223.67 1871,225 C1839.67,226.33 1823,225.83 1794,226 C1765,226.17 1728.83,226.67 1697,226 C1665.17,225.33 1618.67,222.67 1603,222Z" fill="url(#hg3)"/>
<clipPath id="tc3"><path d="M1603,123 C1615.83,123.83 1657.17,126.17 1680,128 C1702.83,129.83 1720,132.5 1740,134 C1760,135.5 1782.5,137.83 1800,137 C1817.5,136.17 1830,131.33 1845,129 C1860,126.67 1874.17,124.33 1890,123 C1905.83,121.67 1924.67,122.33 1940,121 C1955.33,119.67 1975,116 1982,115 L1982,218 C1963.5,219.17 1902.33,223.67 1871,225 C1839.67,226.33 1823,225.83 1794,226 C1765,226.17 1728.83,226.67 1697,226 C1665.17,225.33 1618.67,222.67 1603,222Z"/></clipPath><g clip-path="url(#tc3)">
<rect x="1603.4" y="115" width="378.1" height="111" filter="url(#heP)" opacity="0.5"/>
<rect x="1603.4" y="115" width="378.1" height="111" filter="url(#heL)" opacity="0.7"/>
<g fill="#a850d0" opacity="0.3"><ellipse cx="1701" cy="211" rx="5" ry="2"/><ellipse cx="1850" cy="209" rx="3" ry="4"/><ellipse cx="1881" cy="174" rx="5" ry="2"/><ellipse cx="1885" cy="162" rx="3" ry="4"/><ellipse cx="1833" cy="164" rx="4" ry="2"/><ellipse cx="1636" cy="213" rx="4" ry="3"/><ellipse cx="1885" cy="220" rx="4" ry="3"/><ellipse cx="1925" cy="196" rx="5" ry="4"/><ellipse cx="1974" cy="202" rx="4" ry="4"/><ellipse cx="1722" cy="178" rx="5" ry="4"/><ellipse cx="1976" cy="202" rx="5" ry="4"/><ellipse cx="1886" cy="174" rx="5" ry="4"/><ellipse cx="1771" cy="184" rx="3" ry="2"/><ellipse cx="1801" cy="190" rx="4" ry="3"/><ellipse cx="1832" cy="196" rx="3" ry="4"/><ellipse cx="1789" cy="189" rx="3" ry="2"/><ellipse cx="1869" cy="176" rx="4" ry="4"/><ellipse cx="1841" cy="199" rx="3" ry="4"/><ellipse cx="1764" cy="219" rx="3" ry="2"/><ellipse cx="1792" cy="212" rx="4" ry="4"/><ellipse cx="1699" cy="213" rx="5" ry="3"/><ellipse cx="1938" cy="210" rx="3" ry="4"/><ellipse cx="1926" cy="189" rx="5" ry="4"/><ellipse cx="1655" cy="221" rx="5" ry="2"/><ellipse cx="1877" cy="181" rx="5" ry="2"/><ellipse cx="1823" cy="207" rx="4" ry="4"/><ellipse cx="1879" cy="190" rx="4" ry="2"/><ellipse cx="1666" cy="209" rx="3" ry="2"/><ellipse cx="1667" cy="196" rx="5" ry="4"/><ellipse cx="1909" cy="207" rx="4" ry="3"/><ellipse cx="1847" cy="202" rx="3" ry="3"/><ellipse cx="1649" cy="188" rx="4" ry="4"/><ellipse cx="1829" cy="174" rx="4" ry="4"/><ellipse cx="1742" cy="218" rx="3" ry="3"/><ellipse cx="1730" cy="202" rx="5" ry="4"/><ellipse cx="1915" cy="180" rx="3" ry="3"/><ellipse cx="1905" cy="191" rx="5" ry="2"/><ellipse cx="1883" cy="184" rx="5" ry="2"/><ellipse cx="1701" cy="206" rx="4" ry="2"/><ellipse cx="1827" cy="198" rx="5" ry="3"/><ellipse cx="1764" cy="193" rx="4" ry="2"/><ellipse cx="1629" cy="165" rx="3" ry="4"/><ellipse cx="1896" cy="178" rx="4" ry="4"/><ellipse cx="1751" cy="174" rx="5" ry="3"/><ellipse cx="1963" cy="170" rx="3" ry="2"/><ellipse cx="1743" cy="182" rx="4" ry="3"/><ellipse cx="1831" cy="190" rx="4" ry="2"/><ellipse cx="1641" cy="198" rx="5" ry="4"/><ellipse cx="1978" cy="157" rx="5" ry="3"/><ellipse cx="1652" cy="214" rx="4" ry="2"/><ellipse cx="1941" cy="198" rx="3" ry="2"/><ellipse cx="1942" cy="215" rx="5" ry="2"/><ellipse cx="1637" cy="219" rx="3" ry="3"/><ellipse cx="1703" cy="217" rx="3" ry="4"/><ellipse cx="1693" cy="217" rx="3" ry="4"/><ellipse cx="1901" cy="211" rx="3" ry="4"/><ellipse cx="1752" cy="173" rx="5" ry="2"/><ellipse cx="1647" cy="175" rx="5" ry="3"/><ellipse cx="1805" cy="193" rx="5" ry="3"/><ellipse cx="1702" cy="195" rx="3" ry="2"/><ellipse cx="1878" cy="172" rx="5" ry="3"/><ellipse cx="1931" cy="219" rx="5" ry="3"/><ellipse cx="1664" cy="222" rx="5" ry="4"/><ellipse cx="1868" cy="220" rx="3" ry="2"/><ellipse cx="1639" cy="194" rx="4" ry="3"/><ellipse cx="1751" cy="182" rx="3" ry="3"/><ellipse cx="1717" cy="204" rx="5" ry="3"/><ellipse cx="1708" cy="186" rx="3" ry="3"/><ellipse cx="1761" cy="224" rx="4" ry="3"/><ellipse cx="1702" cy="200" rx="5" ry="3"/><ellipse cx="1677" cy="194" rx="4" ry="2"/><ellipse cx="1614" cy="217" rx="4" ry="4"/><ellipse cx="1671" cy="174" rx="5" ry="2"/><ellipse cx="1720" cy="220" rx="4" ry="4"/><ellipse cx="1801" cy="218" rx="3" ry="4"/><ellipse cx="1885" cy="206" rx="4" ry="2"/><ellipse cx="1966" cy="155" rx="5" ry="2"/><ellipse cx="1716" cy="208" rx="5" ry="2"/><ellipse cx="1880" cy="195" rx="4" ry="2"/><ellipse cx="1787" cy="208" rx="3" ry="3"/><ellipse cx="1804" cy="167" rx="4" ry="3"/><ellipse cx="1850" cy="206" rx="5" ry="4"/><ellipse cx="1979" cy="176" rx="5" ry="4"/><ellipse cx="1608" cy="190" rx="3" ry="3"/></g>
<path d="M1603,123 C1615.83,123.83 1657.17,126.17 1680,128 C1702.83,129.83 1720,132.5 1740,134 C1760,135.5 1782.5,137.83 1800,137 C1817.5,136.17 1830,131.33 1845,129 C1860,126.67 1874.17,124.33 1890,123 C1905.83,121.67 1924.67,122.33 1940,121 C1955.33,119.67 1975,116 1982,115" stroke="#ec96e0" stroke-width="6" fill="none" opacity="0.7" transform="translate(0,4)"/>
<path d="M1603,123 C1615.83,123.83 1657.17,126.17 1680,128 C1702.83,129.83 1720,132.5 1740,134 C1760,135.5 1782.5,137.83 1800,137 C1817.5,136.17 1830,131.33 1845,129 C1860,126.67 1874.17,124.33 1890,123 C1905.83,121.67 1924.67,122.33 1940,121 C1955.33,119.67 1975,116 1982,115" stroke="#7048a0" stroke-width="3.5" fill="none" opacity="0.85"/>

<path d="M1603,222 C1618.67,222.67 1665.17,225.33 1697,226 C1728.83,226.67 1765,226.17 1794,226 C1823,225.83 1839.67,226.33 1871,225 C1902.33,223.67 1963.5,219.17 1982,218" stroke="#9a58b8" stroke-width="2.5" fill="none" opacity="0.5"/>
</g></g>
<rect x="1603.4" y="1.2" width="378.1" height="284.8" fill="none" stroke="#000" stroke-width="1.8"/>
<text transform="translate(1617.8,64.09) scale(0.5239,0.5188)" font-size="100" fill="#000">ELF3sh-2</text>
<rect x="1899" y="268" width="67" height="7" fill="#000"/>
<text transform="translate(756.41,357.19) scale(0.6549,0.6264)" font-size="100" font-weight="bold" fill="#000">d</text>
<clipPath id="dc1"><rect x="819.4" y="300" width="379.3" height="285.4"/></clipPath>
<g clip-path="url(#dc1)">
<rect x="819.4" y="300" width="379.3" height="285.4" fill="#000"/>
<clipPath id="dt1"><path d="M819,396 C826.42,396 854.83,395.17 863.5,396 C872.17,396.83 866.58,401.5 871,401 C875.42,400.5 882.43,395.5 890,393 C897.57,390.5 903.6,387.42 916.4,386 C929.2,384.58 950,384.12 966.8,384.5 C983.6,384.88 1000.4,387.25 1017.2,388.3 C1034,389.35 1050.8,389.12 1067.6,390.8 C1084.4,392.48 1096.1,395.88 1118,398.4 C1139.9,400.92 1185.5,404.65 1199,405.9 L1199,535.7 C1164.5,536.12 1055.33,537.57 992,538.2 C928.67,538.83 847.83,539.28 819,539.5Z"/></clipPath><g clip-path="url(#dt1)">
<g filter="url(#bl5)">
<path d="M779,352.95 L799,352.95 L819,352.95 L839,353 L859,353.04 L879,355.21 L899,346.13 L919,340.07 L939,339.35 L959,338.62 L979,339.56 L999,341.57 L1019,343.54 L1039,344.91 L1059,346.27 L1079,349.13 L1099,353.12 L1119,357.04 L1139,359.52 L1159,362 L1179,364.48 L1199,366.96 L1219,366.96 L1239,366.96 L1239,421.48 L1219,421.48 L1199,421.48 L1179,419.88 L1159,418.27 L1139,416.67 L1119,415.07 L1099,412.5 L1079,409.87 L1059,408.02 L1039,407.17 L1019,406.33 L999,405.07 L979,403.77 L959,403.18 L939,403.72 L919,404.26 L899,408.41 L879,414.6 L859,413.18 L839,413.2 L819,413.22 L799,413.22 L779,413.22Z" fill="#6050d8"/>
<path d="M779,407.48 L799,407.48 L819,407.48 L839,407.47 L859,407.46 L879,408.94 L899,402.48 L919,398.15 L939,397.59 L959,397.03 L979,397.65 L999,399.02 L1019,400.35 L1039,401.24 L1059,402.13 L1079,404.09 L1099,406.84 L1119,409.55 L1139,411.23 L1159,412.92 L1179,414.6 L1199,416.28 L1219,416.28 L1239,416.28 L1239,434.46 L1219,434.46 L1199,434.46 L1179,433.06 L1159,431.67 L1139,430.28 L1119,428.89 L1099,426.64 L1079,424.34 L1059,422.72 L1039,422 L1019,421.28 L999,420.19 L979,419.05 L959,418.55 L939,419.05 L919,419.54 L899,423.24 L879,428.74 L859,427.5 L839,427.54 L819,427.57 L799,427.57 L779,427.57Z" fill="#5058b8"/>
<path d="M779,421.83 L799,421.83 L819,421.83 L839,421.8 L859,421.78 L879,423.09 L899,417.3 L919,413.43 L939,412.92 L959,412.4 L979,412.94 L999,414.14 L1019,415.3 L1039,416.07 L1059,416.84 L1079,418.55 L1099,420.98 L1119,423.36 L1139,424.84 L1159,426.31 L1179,427.79 L1199,429.26 L1219,429.26 L1239,429.26 L1239,450.03 L1219,450.03 L1199,450.03 L1179,448.89 L1159,447.75 L1139,446.61 L1119,445.47 L1099,443.6 L1079,441.69 L1059,440.36 L1039,439.79 L1019,439.21 L999,438.33 L979,437.4 L959,437 L939,437.44 L919,437.88 L899,441.03 L879,445.71 L859,444.69 L839,444.74 L819,444.79 L799,444.79 L779,444.79Z" fill="#3e6a88"/>
<path d="M779,439.05 L799,439.05 L819,439.05 L839,439 L859,438.96 L879,440.06 L899,435.1 L919,431.77 L939,431.31 L959,430.85 L979,431.28 L999,432.28 L1019,433.23 L1039,433.86 L1059,434.48 L1079,435.91 L1099,437.95 L1119,439.94 L1139,441.17 L1159,442.39 L1179,443.62 L1199,444.84 L1219,444.84 L1239,444.84 L1239,466.91 L1219,466.91 L1199,466.91 L1179,466.04 L1159,465.17 L1139,464.3 L1119,463.43 L1099,461.98 L1079,460.5 L1059,459.47 L1039,459.06 L1019,458.65 L999,457.99 L979,457.27 L959,456.98 L939,457.36 L919,457.75 L899,460.31 L879,464.1 L859,463.3 L839,463.37 L819,463.44 L799,463.44 L779,463.44Z" fill="#3e8a60"/>
<path d="M779,457.7 L799,457.7 L819,457.7 L839,457.64 L859,457.58 L879,458.44 L899,454.38 L919,451.64 L939,451.23 L959,450.83 L979,451.16 L999,451.94 L1019,452.67 L1039,453.13 L1059,453.59 L1079,454.71 L1099,456.33 L1119,457.91 L1139,458.86 L1159,459.81 L1179,460.76 L1199,461.71 L1219,461.71 L1239,461.71 L1239,496.76 L1219,496.76 L1199,496.76 L1179,496.37 L1159,495.99 L1139,495.6 L1119,495.21 L1099,494.5 L1079,493.76 L1059,493.29 L1039,493.16 L1019,493.03 L999,492.76 L979,492.43 L959,492.33 L939,492.62 L919,492.9 L899,494.41 L879,496.62 L859,496.24 L839,496.34 L819,496.45 L799,496.45 L779,496.45Z" fill="#48a840"/>
<path d="M779,490.71 L799,490.71 L819,490.71 L839,490.61 L859,490.51 L879,490.97 L899,488.48 L919,486.79 L939,486.49 L959,486.18 L979,486.32 L999,486.71 L1019,487.05 L1039,487.23 L1059,487.4 L1079,487.97 L1099,488.84 L1119,489.69 L1139,490.16 L1159,490.63 L1179,491.1 L1199,491.57 L1219,491.57 L1239,491.57 L1239,512.34 L1219,512.34 L1199,512.34 L1179,512.2 L1159,512.07 L1139,511.93 L1119,511.79 L1099,511.46 L1079,511.12 L1059,510.93 L1039,510.95 L1019,510.97 L999,510.9 L979,510.78 L959,510.78 L939,511.01 L919,511.24 L899,512.21 L879,513.59 L859,513.42 L839,513.55 L819,513.67 L799,513.67 L779,513.67Z" fill="#3a8a50"/>
<path d="M779,507.93 L799,507.93 L819,507.93 L839,507.81 L859,507.7 L879,507.94 L899,506.28 L919,505.13 L939,504.88 L959,504.63 L979,504.66 L999,504.85 L1019,504.99 L1039,505.02 L1059,505.05 L1079,505.33 L1099,505.81 L1119,506.27 L1139,506.49 L1159,506.71 L1179,506.92 L1199,507.14 L1219,507.14 L1239,507.14 L1239,527.91 L1219,527.91 L1199,527.91 L1179,528.03 L1159,528.14 L1139,528.26 L1119,528.38 L1099,528.43 L1079,528.47 L1059,528.57 L1039,528.74 L1019,528.9 L999,529.04 L979,529.13 L959,529.23 L939,529.4 L919,529.58 L899,530 L879,530.56 L859,530.61 L839,530.75 L819,530.89 L799,530.89 L779,530.89Z" fill="#502070"/>
<path d="M779,525.15 L799,525.15 L819,525.15 L839,525.01 L859,524.88 L879,524.91 L899,524.07 L919,523.47 L939,523.27 L959,523.08 L979,523.01 L999,523 L1019,522.93 L1039,522.81 L1059,522.69 L1079,522.69 L1099,522.77 L1119,522.85 L1139,522.82 L1159,522.78 L1179,522.75 L1199,522.72 L1219,522.72 L1239,522.72 L1239,574.64 L1219,574.64 L1199,574.64 L1179,575.51 L1159,576.38 L1139,577.25 L1119,578.12 L1099,579.32 L1079,580.54 L1059,581.5 L1039,582.11 L1019,582.72 L999,583.47 L979,584.16 L959,584.56 L939,584.58 L919,584.6 L899,583.38 L879,581.47 L859,582.16 L839,582.35 L819,582.55 L799,582.55 L779,582.55Z" fill="#4a1028"/>
</g>
<mask id="tm10" maskContentUnits="userSpaceOnUse"><path d="M789,439.05 L809,439.05 L829,439.03 L849,438.98 L869,441.5 L889,437.09 L909,433.22 L929,431.54 L949,431.08 L969,430.78 L989,431.79 L1009,432.78 L1029,433.55 L1049,434.17 L1069,434.89 L1089,436.93 L1109,438.97 L1129,440.56 L1149,441.78 L1169,443 L1189,444.23 L1209,444.84 L1229,444.84 L1229,516.23 L1209,516.23 L1189,516.19 L1169,516.12 L1149,516.05 L1129,515.98 L1109,515.83 L1089,515.58 L1069,515.33 L1049,515.37 L1029,515.42 L1009,515.45 L989,515.42 L969,515.32 L949,515.5 L929,515.72 L909,516.19 L889,517.14 L869,518.21 L849,517.78 L829,517.91 L809,517.98 L789,517.98Z" fill="#fff" filter="url(#bl5)"/></mask>
<g mask="url(#tm10)"><rect x="819.4" y="379.5" width="379.3" height="165" filter="url(#ifG)" opacity="0.55"/></g>
<g fill="#3434f0" opacity="0.95" filter="url(#soft)"><ellipse cx="818" cy="525" rx="8" ry="6"/><ellipse cx="833" cy="521" rx="7" ry="7"/><ellipse cx="846" cy="524" rx="6" ry="5"/><ellipse cx="860" cy="524" rx="6" ry="5"/><ellipse cx="877" cy="521" rx="6" ry="7"/><ellipse cx="889" cy="527" rx="8" ry="6"/><ellipse cx="905" cy="518" rx="7" ry="7"/><ellipse cx="920" cy="518" rx="7" ry="5"/><ellipse cx="933" cy="525" rx="6" ry="5"/><ellipse cx="947" cy="522" rx="7" ry="6"/><ellipse cx="962" cy="519" rx="6" ry="6"/><ellipse cx="980" cy="519" rx="6" ry="5"/><ellipse cx="996" cy="524" rx="8" ry="7"/><ellipse cx="1014" cy="518" rx="8" ry="6"/><ellipse cx="1029" cy="520" rx="7" ry="5"/><ellipse cx="1046" cy="520" rx="7" ry="6"/><ellipse cx="1061" cy="520" rx="7" ry="6"/><ellipse cx="1075" cy="524" rx="6" ry="7"/><ellipse cx="1091" cy="525" rx="6" ry="6"/><ellipse cx="1103" cy="522" rx="8" ry="5"/><ellipse cx="1119" cy="520" rx="8" ry="5"/><ellipse cx="1132" cy="519" rx="7" ry="6"/><ellipse cx="1146" cy="522" rx="7" ry="5"/><ellipse cx="1159" cy="518" rx="6" ry="6"/><ellipse cx="1173" cy="523" rx="8" ry="7"/><ellipse cx="1190" cy="525" rx="7" ry="5"/></g>
<g fill="#3030e0" opacity="0.9" filter="url(#soft)"><ellipse cx="826" cy="510" rx="6" ry="6"/><ellipse cx="843" cy="504" rx="5" ry="4"/><ellipse cx="862" cy="506" rx="6" ry="6"/><ellipse cx="879" cy="509" rx="5" ry="5"/><ellipse cx="899" cy="501" rx="5" ry="4"/><ellipse cx="916" cy="507" rx="7" ry="4"/><ellipse cx="937" cy="506" rx="6" ry="4"/><ellipse cx="954" cy="507" rx="7" ry="6"/><ellipse cx="971" cy="507" rx="6" ry="4"/><ellipse cx="992" cy="504" rx="6" ry="5"/><ellipse cx="1011" cy="507" rx="6" ry="4"/><ellipse cx="1029" cy="502" rx="7" ry="4"/><ellipse cx="1046" cy="500" rx="7" ry="4"/><ellipse cx="1062" cy="502" rx="5" ry="6"/><ellipse cx="1080" cy="505" rx="5" ry="4"/><ellipse cx="1095" cy="503" rx="5" ry="4"/><ellipse cx="1114" cy="507" rx="5" ry="4"/><ellipse cx="1133" cy="502" rx="7" ry="5"/><ellipse cx="1151" cy="508" rx="7" ry="4"/><ellipse cx="1166" cy="508" rx="5" ry="6"/><ellipse cx="1186" cy="508" rx="7" ry="6"/><ellipse cx="1204" cy="508" rx="5" ry="4"/></g>
<g fill="#e040e0" opacity="0.9" filter="url(#soft)"><ellipse cx="1151" cy="439" rx="8" ry="3"/><ellipse cx="1147" cy="433" rx="8" ry="4"/><ellipse cx="1105" cy="430" rx="5" ry="4"/><ellipse cx="1097" cy="454" rx="8" ry="5"/><ellipse cx="1005" cy="435" rx="8" ry="5"/><ellipse cx="838" cy="442" rx="6" ry="5"/><ellipse cx="935" cy="439" rx="8" ry="5"/><ellipse cx="888" cy="441" rx="6" ry="3"/><ellipse cx="953" cy="424" rx="7" ry="3"/><ellipse cx="1152" cy="447" rx="7" ry="5"/><ellipse cx="1056" cy="417" rx="7" ry="4"/><ellipse cx="1016" cy="429" rx="7" ry="3"/><ellipse cx="902" cy="418" rx="7" ry="3"/><ellipse cx="911" cy="440" rx="7" ry="5"/><ellipse cx="981" cy="442" rx="7" ry="4"/><ellipse cx="942" cy="421" rx="4" ry="3"/><ellipse cx="1001" cy="432" rx="8" ry="3"/></g>
<g fill="#f050e8" opacity="0.9" filter="url(#soft)"><ellipse cx="1118" cy="444" rx="8" ry="5"/><ellipse cx="1099" cy="442" rx="6" ry="3"/><ellipse cx="1002" cy="432" rx="6" ry="5"/><ellipse cx="963" cy="432" rx="4" ry="3"/><ellipse cx="936" cy="424" rx="7" ry="5"/><ellipse cx="871" cy="444" rx="4" ry="5"/><ellipse cx="932" cy="448" rx="7" ry="3"/><ellipse cx="1200" cy="434" rx="7" ry="3"/><ellipse cx="1079" cy="431" rx="8" ry="5"/><ellipse cx="888" cy="423" rx="4" ry="4"/><ellipse cx="1015" cy="449" rx="5" ry="5"/><ellipse cx="1012" cy="423" rx="6" ry="5"/><ellipse cx="962" cy="447" rx="7" ry="4"/><ellipse cx="984" cy="436" rx="6" ry="5"/><ellipse cx="882" cy="435" rx="6" ry="3"/><ellipse cx="888" cy="453" rx="4" ry="4"/><ellipse cx="1130" cy="455" rx="6" ry="3"/></g>
<g fill="#3a28c8" opacity="0.85" filter="url(#soft)"><ellipse cx="844" cy="479" rx="7" ry="5"/><ellipse cx="986" cy="467" rx="4" ry="5"/><ellipse cx="872" cy="499" rx="5" ry="4"/><ellipse cx="959" cy="443" rx="5" ry="3"/><ellipse cx="1037" cy="492" rx="7" ry="5"/><ellipse cx="1142" cy="466" rx="7" ry="4"/><ellipse cx="1158" cy="464" rx="7" ry="3"/><ellipse cx="1071" cy="450" rx="7" ry="5"/><ellipse cx="1199" cy="484" rx="5" ry="3"/><ellipse cx="1008" cy="472" rx="7" ry="4"/><ellipse cx="1079" cy="481" rx="5" ry="4"/><ellipse cx="874" cy="466" rx="4" ry="3"/></g>
<g fill="#4a30d0" opacity="0.85" filter="url(#soft)"><ellipse cx="1075" cy="456" rx="4" ry="5"/><ellipse cx="1137" cy="469" rx="6" ry="3"/><ellipse cx="878" cy="480" rx="6" ry="5"/><ellipse cx="1122" cy="470" rx="4" ry="3"/><ellipse cx="905" cy="464" rx="6" ry="4"/><ellipse cx="892" cy="458" rx="7" ry="3"/><ellipse cx="941" cy="455" rx="4" ry="5"/><ellipse cx="952" cy="471" rx="5" ry="3"/><ellipse cx="1091" cy="472" rx="5" ry="4"/><ellipse cx="1128" cy="494" rx="4" ry="3"/><ellipse cx="1079" cy="479" rx="4" ry="4"/><ellipse cx="966" cy="492" rx="6" ry="3"/></g>
<g filter="url(#bl3)"><ellipse cx="850" cy="404" rx="26" ry="4" fill="#90b8ff" opacity="0.6"/><ellipse cx="1075" cy="400" rx="26" ry="6" fill="#a0d0f0" opacity="0.55"/><ellipse cx="1150" cy="403" rx="22" ry="5" fill="#80c0e0" opacity="0.5"/><ellipse cx="960" cy="402" rx="30" ry="6" fill="#8040d0" opacity="0.5"/></g><ellipse cx="826" cy="448" rx="9" ry="14" fill="#02100a" stroke="#3a9a50" stroke-width="2" opacity="0.9"/>
</g>
<path d="M878,372 Q884,364 895,370 L915,386 Q920,396 912,398 L890,392 Q874,382 878,372Z" fill="#8cc8f0" opacity="0.85"/><path d="M920,392 Q960,384 1000,388 L1010,396 Q960,400 920,398Z" fill="#70a8e0" opacity="0.6"/><path d="M1120,400 L1198,360" stroke="#401018" stroke-width="2"/>
</g>
<clipPath id="dc2"><rect x="1212" y="300" width="379.4" height="285.3"/></clipPath>
<g clip-path="url(#dc2)">
<rect x="1212" y="300" width="379.4" height="285.3" fill="#000"/>
<clipPath id="dt2"><path d="M1211,414 C1227.5,413.33 1280.17,411.33 1310,410 C1339.83,408.67 1363.33,407 1390,406 C1416.67,405 1446.67,405.33 1470,404 C1493.33,402.67 1509.67,399.33 1530,398 C1550.33,396.67 1581.67,396.33 1592,396 L1592,526 C1528.5,526.67 1274.5,529.33 1211,530Z"/></clipPath><g clip-path="url(#dt2)">
<g filter="url(#bl5)">
<path d="M1172,379.2 L1192,379.2 L1212,379.15 L1232,378.16 L1252,377.18 L1272,376.19 L1292,375.2 L1312,374.19 L1332,372.95 L1352,371.71 L1372,370.48 L1392,369.31 L1412,368.72 L1432,368.13 L1452,367.54 L1472,366.76 L1492,364.23 L1512,361.69 L1532,359.33 L1552,358.55 L1572,357.78 L1592,357 L1612,357 L1632,357 L1632,409 L1612,409 L1592,409 L1572,409.6 L1552,410.2 L1532,410.8 L1512,412.5 L1492,414.32 L1472,416.15 L1452,416.75 L1432,417.22 L1412,417.69 L1392,418.16 L1372,419.04 L1352,419.96 L1332,420.88 L1312,421.8 L1292,422.57 L1272,423.32 L1252,424.07 L1232,424.81 L1212,425.56 L1192,425.6 L1172,425.6Z" fill="#44409a"/>
<path d="M1172,420.96 L1192,420.96 L1212,420.92 L1232,420.15 L1252,419.38 L1272,418.6 L1292,417.83 L1312,417.04 L1332,416.09 L1352,415.14 L1372,414.18 L1392,413.28 L1412,412.8 L1432,412.31 L1452,411.83 L1472,411.21 L1492,409.31 L1512,407.42 L1532,405.66 L1552,405.04 L1572,404.42 L1592,403.8 L1612,403.8 L1632,403.8 L1632,431.1 L1612,431.1 L1592,431.1 L1572,431.63 L1552,432.16 L1532,432.68 L1512,434.1 L1492,435.62 L1472,437.13 L1452,437.67 L1432,438.09 L1412,438.51 L1392,438.93 L1372,439.68 L1352,440.47 L1332,441.25 L1312,442.04 L1292,442.7 L1272,443.35 L1252,443.99 L1232,444.64 L1212,445.29 L1192,445.32 L1172,445.32Z" fill="#34466c"/>
<path d="M1172,440.68 L1192,440.68 L1212,440.65 L1232,439.98 L1252,439.31 L1272,438.63 L1292,437.96 L1312,437.28 L1332,436.46 L1352,435.64 L1372,434.82 L1392,434.04 L1412,433.61 L1432,433.18 L1452,432.74 L1472,432.2 L1492,430.61 L1512,429.02 L1532,427.54 L1552,426.99 L1572,426.45 L1592,425.9 L1612,425.9 L1632,425.9 L1632,448 L1612,448 L1592,448 L1572,448.47 L1552,448.94 L1532,449.41 L1512,450.62 L1492,451.9 L1472,453.18 L1452,453.66 L1432,454.04 L1412,454.43 L1392,454.81 L1372,455.46 L1352,456.15 L1332,456.83 L1312,457.52 L1292,458.1 L1272,458.67 L1252,459.23 L1232,459.8 L1212,460.37 L1192,460.4 L1172,460.4Z" fill="#3a6a58"/>
<path d="M1172,455.76 L1192,455.76 L1212,455.73 L1232,455.14 L1252,454.54 L1272,453.95 L1292,453.36 L1312,452.75 L1332,452.04 L1352,451.32 L1372,450.61 L1392,449.92 L1412,449.53 L1432,449.13 L1452,448.74 L1472,448.25 L1492,446.89 L1512,445.53 L1532,444.27 L1552,443.78 L1572,443.29 L1592,442.8 L1612,442.8 L1632,442.8 L1632,479.2 L1612,479.2 L1592,479.2 L1572,479.57 L1552,479.93 L1532,480.3 L1512,481.11 L1492,481.96 L1472,482.81 L1452,483.18 L1432,483.5 L1412,483.81 L1392,484.13 L1372,484.6 L1352,485.1 L1332,485.59 L1312,486.09 L1292,486.52 L1272,486.94 L1252,487.37 L1232,487.79 L1212,488.22 L1192,488.24 L1172,488.24Z" fill="#40a038"/>
<path d="M1172,483.6 L1192,483.6 L1212,483.58 L1232,483.13 L1252,482.68 L1272,482.23 L1292,481.78 L1312,481.32 L1332,480.8 L1352,480.27 L1372,479.75 L1392,479.24 L1412,478.91 L1432,478.59 L1452,478.26 L1472,477.88 L1492,476.95 L1512,476.02 L1532,475.15 L1552,474.77 L1572,474.38 L1592,474 L1612,474 L1632,474 L1632,502.6 L1612,502.6 L1592,502.6 L1572,502.89 L1552,503.18 L1532,503.46 L1512,503.97 L1492,504.5 L1472,505.04 L1452,505.33 L1432,505.59 L1412,505.85 L1392,506.11 L1372,506.46 L1352,506.81 L1332,507.16 L1312,507.51 L1292,507.83 L1272,508.15 L1252,508.47 L1232,508.79 L1212,509.1 L1192,509.12 L1172,509.12Z" fill="#3a2a80"/>
<path d="M1172,504.48 L1192,504.48 L1212,504.46 L1232,504.12 L1252,503.78 L1272,503.44 L1292,503.1 L1312,502.75 L1332,502.37 L1352,501.98 L1372,501.6 L1392,501.23 L1412,500.95 L1432,500.68 L1452,500.41 L1472,500.1 L1492,499.49 L1512,498.89 L1532,498.32 L1552,498.01 L1572,497.71 L1592,497.4 L1612,497.4 L1632,497.4 L1632,518.2 L1612,518.2 L1592,518.2 L1572,518.44 L1552,518.67 L1532,518.91 L1512,519.22 L1492,519.53 L1472,519.85 L1452,520.09 L1432,520.32 L1412,520.54 L1392,520.77 L1372,521.03 L1352,521.28 L1332,521.54 L1312,521.8 L1292,522.04 L1272,522.29 L1252,522.54 L1232,522.78 L1212,523.03 L1192,523.04 L1172,523.04Z" fill="#501030"/>
<path d="M1172,518.4 L1192,518.4 L1212,518.39 L1232,518.12 L1252,517.85 L1272,517.58 L1292,517.31 L1312,517.04 L1332,516.75 L1352,516.46 L1372,516.17 L1392,515.88 L1412,515.65 L1432,515.41 L1452,515.17 L1472,514.91 L1492,514.52 L1512,514.14 L1532,513.76 L1552,513.51 L1572,513.25 L1592,513 L1612,513 L1632,513 L1632,565 L1612,565 L1592,565 L1572,565.08 L1552,565.16 L1532,565.24 L1512,564.95 L1492,564.62 L1472,564.3 L1452,564.38 L1432,564.5 L1412,564.62 L1392,564.74 L1372,564.73 L1352,564.71 L1332,564.68 L1312,564.65 L1292,564.68 L1272,564.71 L1252,564.74 L1232,564.77 L1212,564.8 L1192,564.8 L1172,564.8Z" fill="#3a0a20"/>
</g>
<mask id="tm20" maskContentUnits="userSpaceOnUse"><path d="M1182,448.8 L1202,448.8 L1222,448.45 L1242,447.83 L1262,447.2 L1282,446.57 L1302,445.94 L1322,445.23 L1342,444.47 L1362,443.7 L1382,442.94 L1402,442.39 L1422,441.98 L1442,441.56 L1462,441.15 L1482,440.11 L1502,438.64 L1522,437.18 L1542,436.29 L1562,435.77 L1582,435.26 L1602,435 L1622,435 L1622,487 L1602,487 L1582,487.17 L1562,487.51 L1542,487.85 L1522,488.35 L1502,489.1 L1482,489.85 L1462,490.42 L1442,490.71 L1422,491.01 L1402,491.31 L1382,491.66 L1362,492.11 L1342,492.56 L1322,493 L1302,493.43 L1282,493.82 L1262,494.21 L1242,494.6 L1222,494.99 L1202,495.2 L1182,495.2Z" fill="#fff" filter="url(#bl5)"/></mask>
<g mask="url(#tm20)"><rect x="1212" y="391" width="379.4" height="144" filter="url(#ifG)" opacity="0.45"/></g>
<g fill="#3434f0" opacity="0.95" filter="url(#soft)"><ellipse cx="1222" cy="504" rx="6" ry="12"/><ellipse cx="1235" cy="503" rx="8" ry="11"/><ellipse cx="1252" cy="502" rx="7" ry="9"/><ellipse cx="1266" cy="508" rx="8" ry="12"/><ellipse cx="1282" cy="501" rx="6" ry="11"/><ellipse cx="1296" cy="503" rx="6" ry="9"/><ellipse cx="1312" cy="508" rx="7" ry="10"/><ellipse cx="1330" cy="504" rx="8" ry="10"/><ellipse cx="1344" cy="503" rx="8" ry="10"/><ellipse cx="1358" cy="504" rx="6" ry="12"/><ellipse cx="1376" cy="505" rx="8" ry="12"/><ellipse cx="1390" cy="510" rx="6" ry="11"/><ellipse cx="1406" cy="503" rx="6" ry="11"/><ellipse cx="1421" cy="505" rx="8" ry="12"/><ellipse cx="1438" cy="509" rx="7" ry="9"/><ellipse cx="1450" cy="503" rx="6" ry="12"/><ellipse cx="1467" cy="498" rx="6" ry="10"/><ellipse cx="1481" cy="499" rx="6" ry="10"/><ellipse cx="1494" cy="502" rx="6" ry="11"/><ellipse cx="1511" cy="504" rx="7" ry="9"/><ellipse cx="1523" cy="498" rx="8" ry="10"/><ellipse cx="1539" cy="497" rx="6" ry="12"/><ellipse cx="1552" cy="497" rx="8" ry="12"/><ellipse cx="1564" cy="497" rx="8" ry="10"/><ellipse cx="1580" cy="508" rx="8" ry="12"/><ellipse cx="1595" cy="496" rx="8" ry="11"/></g>
<g fill="#3030d8" opacity="0.85" filter="url(#soft)"><ellipse cx="1211" cy="486" rx="7" ry="5"/><ellipse cx="1232" cy="483" rx="8" ry="5"/><ellipse cx="1256" cy="479" rx="8" ry="7"/><ellipse cx="1282" cy="480" rx="6" ry="5"/><ellipse cx="1312" cy="480" rx="6" ry="5"/><ellipse cx="1339" cy="480" rx="6" ry="5"/><ellipse cx="1360" cy="483" rx="8" ry="6"/><ellipse cx="1387" cy="478" rx="6" ry="7"/><ellipse cx="1417" cy="479" rx="6" ry="5"/><ellipse cx="1441" cy="482" rx="8" ry="5"/><ellipse cx="1463" cy="481" rx="8" ry="6"/><ellipse cx="1485" cy="479" rx="7" ry="6"/><ellipse cx="1508" cy="480" rx="6" ry="6"/><ellipse cx="1539" cy="479" rx="8" ry="5"/><ellipse cx="1561" cy="479" rx="7" ry="5"/><ellipse cx="1582" cy="471" rx="7" ry="5"/></g>
<g fill="#c040d0" opacity="0.8" filter="url(#soft)"><ellipse cx="1480" cy="418" rx="4" ry="2"/><ellipse cx="1453" cy="441" rx="5" ry="3"/><ellipse cx="1415" cy="416" rx="6" ry="3"/><ellipse cx="1543" cy="430" rx="4" ry="4"/><ellipse cx="1355" cy="433" rx="5" ry="4"/><ellipse cx="1422" cy="422" rx="8" ry="3"/></g>
<g fill="#8040e0" opacity="0.8" filter="url(#soft)"><ellipse cx="1280" cy="425" rx="5" ry="3"/><ellipse cx="1534" cy="421" rx="7" ry="2"/><ellipse cx="1586" cy="409" rx="7" ry="3"/><ellipse cx="1547" cy="428" rx="7" ry="4"/><ellipse cx="1462" cy="416" rx="5" ry="2"/><ellipse cx="1227" cy="430" rx="5" ry="2"/></g>
<g fill="#3020c0" opacity="0.85" filter="url(#soft)"><ellipse cx="1409" cy="484" rx="5" ry="3"/><ellipse cx="1424" cy="479" rx="4" ry="5"/><ellipse cx="1332" cy="477" rx="4" ry="5"/><ellipse cx="1474" cy="476" rx="4" ry="3"/><ellipse cx="1429" cy="481" rx="6" ry="5"/><ellipse cx="1325" cy="458" rx="7" ry="5"/><ellipse cx="1449" cy="473" rx="6" ry="4"/><ellipse cx="1585" cy="478" rx="4" ry="3"/><ellipse cx="1519" cy="467" rx="6" ry="5"/><ellipse cx="1317" cy="455" rx="4" ry="3"/><ellipse cx="1568" cy="449" rx="4" ry="4"/><ellipse cx="1251" cy="485" rx="6" ry="3"/><ellipse cx="1269" cy="459" rx="7" ry="4"/><ellipse cx="1261" cy="464" rx="5" ry="5"/><ellipse cx="1296" cy="472" rx="6" ry="3"/></g>
<g fill="#3a30d8" opacity="0.85" filter="url(#soft)"><ellipse cx="1388" cy="455" rx="5" ry="3"/><ellipse cx="1257" cy="457" rx="6" ry="5"/><ellipse cx="1261" cy="449" rx="5" ry="3"/><ellipse cx="1251" cy="467" rx="5" ry="5"/><ellipse cx="1354" cy="473" rx="5" ry="4"/><ellipse cx="1258" cy="475" rx="7" ry="4"/><ellipse cx="1453" cy="443" rx="7" ry="5"/><ellipse cx="1378" cy="452" rx="4" ry="3"/><ellipse cx="1252" cy="482" rx="4" ry="3"/><ellipse cx="1426" cy="476" rx="6" ry="5"/><ellipse cx="1256" cy="479" rx="5" ry="5"/><ellipse cx="1514" cy="462" rx="5" ry="4"/><ellipse cx="1495" cy="459" rx="5" ry="4"/><ellipse cx="1467" cy="461" rx="7" ry="4"/><ellipse cx="1510" cy="447" rx="5" ry="3"/></g>
<g filter="url(#bl3)"><path d="M1212,416 Q1260,410 1300,414 L1300,432 Q1250,440 1212,436Z" fill="#7048e0" opacity="0.8"/><path d="M1340,412 Q1400,404 1440,406 L1440,414 Q1400,416 1340,418Z" fill="#a0a0e0" opacity="0.6"/><path d="M1470,404 Q1530,396 1590,394 L1590,402 Q1530,404 1470,410Z" fill="#60c060" opacity="0.5"/></g><circle cx="1560" cy="434" r="3.5" fill="#c0ff60"/>
</g>

</g>
<clipPath id="dc3"><rect x="1603.4" y="300" width="378.1" height="285.3"/></clipPath>
<g clip-path="url(#dc3)">
<rect x="1603.4" y="300" width="378.1" height="285.3" fill="#000"/>
<clipPath id="dt3"><path d="M1603,376 C1620.83,375.67 1668.83,374.67 1710,374 C1751.17,373.33 1804.67,373.33 1850,372 C1895.33,370.67 1960,367 1982,366 L1982,530 C1918.83,530.67 1666.17,533.33 1603,534Z"/></clipPath><g clip-path="url(#dt3)">
<g filter="url(#bl5)">
<path d="M1563,328.6 L1583,328.6 L1603,328.6 L1623,328.18 L1643,327.75 L1663,327.33 L1683,326.91 L1703,326.49 L1723,326.14 L1743,325.83 L1763,325.52 L1783,325.21 L1803,324.91 L1823,324.6 L1843,324.29 L1863,323.46 L1883,322.34 L1903,321.22 L1923,320.1 L1943,318.98 L1963,317.86 L1983,316.8 L2003,316.8 L2003,379.12 L1983,379.12 L1963,379.93 L1943,380.78 L1923,381.64 L1903,382.49 L1883,383.34 L1863,384.2 L1843,384.85 L1823,385.13 L1803,385.41 L1783,385.69 L1763,385.97 L1743,386.25 L1723,386.53 L1703,386.84 L1683,387.2 L1663,387.56 L1643,387.92 L1623,388.28 L1603,388.64 L1583,388.64 L1563,388.64Z" fill="#c080e0"/>
<path d="M1563,382.32 L1583,382.32 L1603,382.32 L1623,381.95 L1643,381.59 L1663,381.22 L1683,380.85 L1703,380.48 L1723,380.17 L1743,379.89 L1763,379.61 L1783,379.32 L1803,379.04 L1823,378.76 L1843,378.47 L1863,377.8 L1883,376.92 L1903,376.04 L1923,375.16 L1943,374.28 L1963,373.4 L1983,372.56 L2003,372.56 L2003,392.24 L1983,392.24 L1963,393 L1943,393.79 L1923,394.59 L1903,395.39 L1883,396.19 L1863,396.98 L1843,397.6 L1823,397.87 L1803,398.15 L1783,398.42 L1763,398.69 L1743,398.97 L1723,399.24 L1703,399.54 L1683,399.89 L1663,400.24 L1643,400.58 L1623,400.93 L1603,401.28 L1583,401.28 L1563,401.28Z" fill="#7890b0"/>
<path d="M1563,394.96 L1583,394.96 L1603,394.96 L1623,394.61 L1643,394.25 L1663,393.9 L1683,393.54 L1703,393.19 L1723,392.88 L1743,392.61 L1763,392.33 L1783,392.05 L1803,391.78 L1823,391.5 L1843,391.22 L1863,390.59 L1883,389.77 L1903,388.94 L1923,388.11 L1943,387.29 L1963,386.46 L1983,385.68 L2003,385.68 L2003,418.48 L1983,418.48 L1963,419.13 L1943,419.82 L1923,420.5 L1903,421.19 L1883,421.87 L1863,422.56 L1843,423.1 L1823,423.36 L1803,423.62 L1783,423.88 L1763,424.14 L1743,424.41 L1723,424.67 L1703,424.95 L1683,425.27 L1663,425.59 L1643,425.92 L1623,426.24 L1603,426.56 L1583,426.56 L1563,426.56Z" fill="#50b048"/>
<path d="M1563,420.24 L1583,420.24 L1603,420.24 L1623,419.91 L1643,419.58 L1663,419.26 L1683,418.93 L1703,418.6 L1723,418.31 L1743,418.05 L1763,417.78 L1783,417.52 L1803,417.25 L1823,416.99 L1843,416.72 L1863,416.17 L1883,415.45 L1903,414.74 L1923,414.03 L1943,413.31 L1963,412.6 L1983,411.92 L2003,411.92 L2003,475.88 L1983,475.88 L1963,476.3 L1943,476.74 L1923,477.18 L1903,477.62 L1883,478.07 L1863,478.51 L1843,478.88 L1823,479.11 L1803,479.35 L1783,479.58 L1763,479.82 L1743,480.05 L1723,480.29 L1703,480.54 L1683,480.8 L1663,481.07 L1643,481.33 L1623,481.6 L1603,481.86 L1583,481.86 L1563,481.86Z" fill="#4cbc40"/>
<path d="M1563,475.54 L1583,475.54 L1603,475.54 L1623,475.27 L1643,475 L1663,474.73 L1683,474.45 L1703,474.18 L1723,473.93 L1743,473.69 L1763,473.46 L1783,473.22 L1803,472.98 L1823,472.74 L1843,472.5 L1863,472.11 L1883,471.64 L1903,471.17 L1923,470.7 L1943,470.24 L1963,469.77 L1983,469.32 L2003,469.32 L2003,497.2 L1983,497.2 L1963,497.53 L1943,497.88 L1923,498.23 L1903,498.59 L1883,498.94 L1863,499.29 L1843,499.59 L1823,499.82 L1803,500.05 L1783,500.27 L1763,500.5 L1743,500.72 L1723,500.95 L1703,501.18 L1683,501.43 L1663,501.67 L1643,501.91 L1623,502.16 L1603,502.4 L1583,502.4 L1563,502.4Z" fill="#40a050"/>
<path d="M1563,496.08 L1583,496.08 L1603,496.08 L1623,495.83 L1643,495.58 L1663,495.33 L1683,495.08 L1703,494.83 L1723,494.59 L1743,494.36 L1763,494.13 L1783,493.91 L1803,493.68 L1823,493.45 L1843,493.22 L1863,492.89 L1883,492.51 L1903,492.14 L1923,491.76 L1943,491.38 L1963,491 L1983,490.64 L2003,490.64 L2003,520.16 L1983,520.16 L1963,520.4 L1943,520.65 L1923,520.91 L1903,521.16 L1883,521.41 L1863,521.67 L1843,521.9 L1823,522.12 L1803,522.34 L1783,522.55 L1763,522.77 L1743,522.98 L1723,523.2 L1703,523.42 L1683,523.64 L1663,523.86 L1643,524.08 L1623,524.3 L1603,524.52 L1583,524.52 L1563,524.52Z" fill="#3040a8"/>
<path d="M1563,518.2 L1583,518.2 L1603,518.2 L1623,517.97 L1643,517.75 L1663,517.52 L1683,517.29 L1703,517.06 L1723,516.84 L1743,516.62 L1763,516.4 L1783,516.19 L1803,515.97 L1823,515.75 L1843,515.53 L1863,515.27 L1883,514.99 L1903,514.71 L1923,514.43 L1943,514.15 L1963,513.87 L1983,513.6 L2003,513.6 L2003,579.2 L1983,579.2 L1963,579.2 L1943,579.2 L1923,579.2 L1903,579.21 L1883,579.21 L1863,579.21 L1843,579.28 L1823,579.47 L1803,579.65 L1783,579.84 L1763,580.03 L1743,580.22 L1723,580.41 L1703,580.59 L1683,580.75 L1663,580.91 L1643,581.08 L1623,581.24 L1603,581.4 L1583,581.4 L1563,581.4Z" fill="#501030"/>
</g>
<mask id="tm30" maskContentUnits="userSpaceOnUse"><path d="M1573,388.64 L1593,388.64 L1613,388.46 L1633,388.1 L1653,387.74 L1673,387.38 L1693,387.02 L1713,386.67 L1733,386.39 L1753,386.11 L1773,385.83 L1793,385.55 L1813,385.27 L1833,384.99 L1853,384.62 L1873,383.77 L1893,382.92 L1913,382.06 L1933,381.21 L1953,380.36 L1973,379.5 L1993,379.12 L1993,505.4 L1973,505.54 L1953,505.86 L1933,506.17 L1913,506.49 L1893,506.81 L1873,507.12 L1853,507.44 L1833,507.67 L1813,507.9 L1793,508.12 L1773,508.34 L1753,508.56 L1733,508.78 L1713,509.01 L1693,509.24 L1673,509.48 L1653,509.71 L1633,509.95 L1613,510.18 L1593,510.3 L1573,510.3Z" fill="#fff" filter="url(#bl5)"/></mask>
<g mask="url(#tm30)"><rect x="1603.4" y="361" width="378.1" height="178" filter="url(#ifG)" opacity="0.55"/></g>
<g fill="#3434f0" opacity="0.95" filter="url(#soft)"><ellipse cx="1612" cy="521" rx="6" ry="7"/><ellipse cx="1627" cy="515" rx="8" ry="9"/><ellipse cx="1639" cy="512" rx="7" ry="7"/><ellipse cx="1651" cy="515" rx="6" ry="7"/><ellipse cx="1663" cy="517" rx="7" ry="7"/><ellipse cx="1677" cy="518" rx="7" ry="7"/><ellipse cx="1689" cy="510" rx="7" ry="8"/><ellipse cx="1704" cy="520" rx="7" ry="9"/><ellipse cx="1721" cy="512" rx="7" ry="7"/><ellipse cx="1736" cy="511" rx="7" ry="10"/><ellipse cx="1751" cy="510" rx="6" ry="9"/><ellipse cx="1766" cy="514" rx="8" ry="7"/><ellipse cx="1778" cy="513" rx="8" ry="9"/><ellipse cx="1794" cy="511" rx="8" ry="9"/><ellipse cx="1806" cy="518" rx="8" ry="9"/><ellipse cx="1822" cy="513" rx="6" ry="9"/><ellipse cx="1835" cy="515" rx="6" ry="10"/><ellipse cx="1847" cy="514" rx="8" ry="7"/><ellipse cx="1864" cy="509" rx="6" ry="7"/><ellipse cx="1878" cy="511" rx="6" ry="8"/><ellipse cx="1893" cy="518" rx="8" ry="7"/><ellipse cx="1908" cy="518" rx="8" ry="7"/><ellipse cx="1921" cy="517" rx="7" ry="10"/><ellipse cx="1933" cy="507" rx="7" ry="8"/><ellipse cx="1948" cy="511" rx="7" ry="8"/><ellipse cx="1960" cy="512" rx="8" ry="8"/><ellipse cx="1975" cy="512" rx="6" ry="9"/><ellipse cx="1987" cy="507" rx="6" ry="10"/></g>
<g fill="#6040d0" opacity="0.8" filter="url(#soft)"><ellipse cx="1853" cy="385" rx="6" ry="5"/><ellipse cx="1865" cy="384" rx="6" ry="5"/><ellipse cx="1713" cy="387" rx="9" ry="5"/><ellipse cx="1812" cy="392" rx="5" ry="3"/></g>
<g fill="#8040e0" opacity="0.8" filter="url(#soft)"><ellipse cx="1843" cy="384" rx="9" ry="5"/><ellipse cx="1923" cy="379" rx="5" ry="4"/><ellipse cx="1817" cy="387" rx="6" ry="5"/><ellipse cx="1970" cy="386" rx="7" ry="3"/></g>
<g fill="#2a1a90" opacity="0.92" filter="url(#soft)"><ellipse cx="1730" cy="404" rx="7" ry="8"/><ellipse cx="1677" cy="464" rx="7" ry="8"/><ellipse cx="1888" cy="485" rx="9" ry="7"/><ellipse cx="1785" cy="463" rx="10" ry="6"/><ellipse cx="1803" cy="428" rx="6" ry="6"/><ellipse cx="1939" cy="476" rx="9" ry="8"/><ellipse cx="1900" cy="459" rx="10" ry="8"/><ellipse cx="1712" cy="431" rx="8" ry="7"/><ellipse cx="1705" cy="485" rx="7" ry="8"/><ellipse cx="1615" cy="483" rx="9" ry="7"/><ellipse cx="1808" cy="463" rx="9" ry="6"/><ellipse cx="1945" cy="487" rx="7" ry="7"/><ellipse cx="1641" cy="445" rx="6" ry="7"/><ellipse cx="1818" cy="441" rx="6" ry="7"/><ellipse cx="1902" cy="409" rx="10" ry="8"/><ellipse cx="1615" cy="476" rx="8" ry="6"/><ellipse cx="1739" cy="415" rx="6" ry="6"/><ellipse cx="1885" cy="435" rx="8" ry="7"/><ellipse cx="1981" cy="453" rx="10" ry="6"/><ellipse cx="1614" cy="415" rx="7" ry="5"/><ellipse cx="1651" cy="464" rx="8" ry="8"/><ellipse cx="1946" cy="424" rx="6" ry="5"/><ellipse cx="1832" cy="454" rx="8" ry="5"/><ellipse cx="1650" cy="412" rx="7" ry="6"/><ellipse cx="1974" cy="487" rx="10" ry="6"/></g>
<g fill="#3a2ab0" opacity="0.92" filter="url(#soft)"><ellipse cx="1805" cy="478" rx="9" ry="7"/><ellipse cx="1805" cy="421" rx="10" ry="7"/><ellipse cx="1776" cy="460" rx="7" ry="7"/><ellipse cx="1746" cy="471" rx="6" ry="8"/><ellipse cx="1752" cy="467" rx="10" ry="6"/><ellipse cx="1680" cy="439" rx="6" ry="5"/><ellipse cx="1721" cy="440" rx="7" ry="8"/><ellipse cx="1741" cy="487" rx="6" ry="7"/><ellipse cx="1771" cy="417" rx="8" ry="8"/><ellipse cx="1974" cy="445" rx="10" ry="8"/><ellipse cx="1914" cy="415" rx="9" ry="6"/><ellipse cx="1855" cy="439" rx="6" ry="8"/><ellipse cx="1924" cy="433" rx="9" ry="7"/><ellipse cx="1621" cy="407" rx="9" ry="7"/><ellipse cx="1977" cy="464" rx="8" ry="6"/><ellipse cx="1654" cy="491" rx="10" ry="8"/><ellipse cx="1809" cy="412" rx="6" ry="8"/><ellipse cx="1782" cy="415" rx="8" ry="5"/><ellipse cx="1839" cy="468" rx="10" ry="6"/><ellipse cx="1805" cy="419" rx="8" ry="7"/><ellipse cx="1703" cy="428" rx="9" ry="7"/><ellipse cx="1730" cy="468" rx="7" ry="6"/><ellipse cx="1623" cy="473" rx="7" ry="5"/><ellipse cx="1869" cy="428" rx="8" ry="5"/><ellipse cx="1969" cy="449" rx="6" ry="5"/></g>

</g>
<rect x="1867" y="563" width="99" height="7" fill="#fff"/>
</g>
<text x="835.56" y="349.2" font-size="42"><tspan fill="#1a6ec8">DAPI </tspan><tspan fill="#00c040">K10 </tspan><tspan fill="#ff1010">ELF3</tspan></text>
<text transform="translate(758.11,654.97) scale(0.6875,0.6443)" font-size="100" font-weight="bold" fill="#000">e</text>
<text x="820.6" y="718.8" font-size="29.2">HPV16</text>
<path d="M938.6,714.2H960.2" stroke="#000" stroke-width="2.6"/>
<path d="M1006.8,714.8H1028.4M1017.6,704.6V725" stroke="#000" stroke-width="2.8"/>
<path d="M1093.6,714.8H1115.2M1104.4,704.6V725" stroke="#000" stroke-width="2.8"/>
<path d="M1176.8,714.8H1198.4M1187.6,704.6V725" stroke="#000" stroke-width="2.8"/>
<path d="M1245.6,714.8H1267.2M1256.4,704.6V725" stroke="#000" stroke-width="2.8"/>
<text x="1307.86" y="721.3" font-size="28.8">kDa</text>
<text x="1069.58" y="684.8" font-size="29.5">NTsh</text>
<text x="1170.6" y="684.8" font-size="29.3">ELF3sh</text>
<path d="M1160.8,694.3H1273.9" stroke="#000" stroke-width="2.2"/>
<text x="813.67" y="787.3" font-size="34.5">ELF3</text>
<text x="791.49" y="855.5" font-size="34.8">β-actin</text>
<text x="1320.86" y="780.6" font-size="28">41</text>
<text x="1322.12" y="852.8" font-size="29.5">42</text>
<defs><filter id="bl" x="-20%" y="-50%" width="140%" height="200%"><feGaussianBlur stdDeviation="4.5 3.5"/></filter><filter id="bl2" x="-20%" y="-80%" width="140%" height="260%"><feGaussianBlur stdDeviation="3 1.8"/></filter></defs>
<rect x="898.6" y="726.4" width="158.4" height="85.6" fill="#d0d0d0"/>
<rect x="1061.7" y="727.4" width="248.1" height="84.6" fill="#d3d3d3"/>
<rect x="898.6" y="818.9" width="159.1" height="57.2" fill="#d9d9d9"/>
<rect x="1061.7" y="817.9" width="248.1" height="58.2" fill="#dcdcdc"/>
<rect x="915" y="764" width="56" height="14" rx="6" fill="#c2c2c2" opacity="0.7" filter="url(#bl)"/>
<rect x="989" y="763" width="60" height="16" rx="6" fill="#b0b0b0" opacity="0.9" filter="url(#bl)"/>
<rect x="1077" y="762" width="58" height="18" rx="6" fill="#909090" opacity="1.0" filter="url(#bl)"/>
<rect x="1150" y="764.5" width="58" height="15" rx="6" fill="#bebebe" opacity="0.9" filter="url(#bl)"/>
<rect x="1222" y="763.5" width="64" height="13" rx="6" fill="#c0c0c0" opacity="0.9" filter="url(#bl)"/>
<rect x="913" y="843" width="60" height="8" rx="4" fill="#adadad" filter="url(#bl2)"/>
<rect x="988" y="844.5" width="62" height="9" rx="4" fill="#a4a4a4" filter="url(#bl2)"/>
<rect x="1076" y="843.5" width="60" height="8" rx="4" fill="#aaaaaa" filter="url(#bl2)"/>
<rect x="1150" y="843" width="60" height="9" rx="4" fill="#a6a6a6" filter="url(#bl2)"/>
<rect x="1223" y="842" width="62" height="7" rx="4" fill="#b4b4b4" filter="url(#bl2)"/>
<rect x="898.6" y="726.4" width="158.4" height="85.6" fill="none" stroke="#000" stroke-width="2"/>
<rect x="1061.7" y="727.4" width="248.1" height="84.6" fill="none" stroke="#000" stroke-width="2"/>
<rect x="898.6" y="818.9" width="159.1" height="57.2" fill="none" stroke="#000" stroke-width="2"/>
<rect x="1061.7" y="817.9" width="248.1" height="58.2" fill="none" stroke="#000" stroke-width="2"/>
<text transform="translate(1380.07,654.7) scale(0.6040,0.6321)" font-size="100" font-weight="bold" fill="#000">f</text>
<path d="M1539.7,623.2V906.8M1527.3,905.1H1969" stroke="#000" stroke-width="3.3" fill="none"/>
<path d="M1527.3,905.1H1539" stroke="#000" stroke-width="3.2"/>
<text x="1510.27" y="913.7" font-size="25">0</text>
<path d="M1527.3,834.62H1539" stroke="#000" stroke-width="3.2"/>
<text x="1496.37" y="843.22" font-size="25">20</text>
<path d="M1527.3,764.14H1539" stroke="#000" stroke-width="3.2"/>
<text x="1496.37" y="772.74" font-size="25">40</text>
<path d="M1527.3,693.66H1539" stroke="#000" stroke-width="3.2"/>
<text x="1496.37" y="702.26" font-size="25">60</text>
<path d="M1527.3,623.18H1539" stroke="#000" stroke-width="3.2"/>
<text x="1496.37" y="631.78" font-size="25">80</text>
<text transform="translate(1434.8,869.29) rotate(-90)" font-size="36.8">ELF3+ cells</text>
<text transform="translate(1477,846.74) rotate(-90)" font-size="37">per frame</text>
<circle cx="1608.3" cy="676.8" r="8.7"/>
<circle cx="1642.4" cy="683.6" r="8.7"/>
<circle cx="1625.3" cy="730" r="8.7"/>
<circle cx="1625.3" cy="757.2" r="8.7"/>
<circle cx="1625.3" cy="810.5" r="8.7"/>
<circle cx="1719.7" cy="872.4" r="8.7" fill="#fca0a0"/>
<circle cx="1719.7" cy="890.9" r="8.7" fill="#fca0a0"/>
<circle cx="1743" cy="880.1" r="8.7" fill="#fca0a0"/>
<circle cx="1765.5" cy="890.9" r="8.7" fill="#fca0a0"/>
<circle cx="1787.8" cy="887.2" r="8.7" fill="#fca0a0"/>
<circle cx="1848.2" cy="872.4" r="8.7" fill="#ff0000"/>
<circle cx="1848.2" cy="893.4" r="8.7" fill="#ff0000"/>
<circle cx="1870.8" cy="873" r="8.7" fill="#ff0000"/>
<circle cx="1893.7" cy="887.8" r="8.7" fill="#ff0000"/>
<circle cx="1916.3" cy="884.7" r="8.7" fill="#ff0000"/>
<path d="M1582.9,731.5H1667.7M1710.5,884.7H1796.5M1839.8,882.3H1924.6" stroke="#000" stroke-width="3"/>
<circle cx="1816.3" cy="645.5" r="8.7"/>
<circle cx="1816.3" cy="688.8" r="8.7" fill="#fca0a0"/>
<circle cx="1816.3" cy="749.2" r="8.7" fill="#ff0000"/>
<text x="1847.49" y="655.1" font-size="26.9">NTsh</text>
<text x="1847.4" y="698.4" font-size="28">ELF3sh-1</text>
<text x="1852.94" y="724.3" font-size="23.5">(p&lt;0.0001)</text>
<text x="1847.35" y="758.5" font-size="28.7">ELF3sh-2</text>
<text x="1856.02" y="786.2" font-size="23.8">(p&lt;0.0001)</text>
<text transform="translate(626.05,964.47) scale(0.6462,0.6383)" font-size="100" font-weight="bold" fill="#000">g</text>
<path d="M801.7,924.7V1232M799.9,1230.2H1768.3" stroke="#000" stroke-width="3.6" fill="none"/>
<path d="M808,953.3H1761.4" stroke="#000" stroke-width="2.7" stroke-linecap="round" stroke-dasharray="0,7.06"/>
<path d="M790.5,953.3H801" stroke="#000" stroke-width="3.4"/>
<text x="771.29" y="964.7" font-size="32.5">0</text>
<path d="M790.5,1064.4H801" stroke="#000" stroke-width="3.4"/>
<text x="760.84" y="1075.8" font-size="32.5">-2</text>
<path d="M790.5,1175.5H801" stroke="#000" stroke-width="3.4"/>
<text x="760.15" y="1186.9" font-size="32.5">-4</text>
<text transform="translate(695.2,1211.42) rotate(-90)" font-size="36.9">Relative gene</text>
<text transform="translate(741,1251.18) rotate(-90)" font-size="36.7">expression (-ddCT)</text>
<ellipse cx="829.3" cy="953.2" rx="10" ry="10.6"/>
<ellipse cx="837.1" cy="953.2" rx="10" ry="10.6"/>
<ellipse cx="844.9" cy="953.2" rx="10" ry="10.6"/>
<ellipse cx="1026.1" cy="953.2" rx="10" ry="10.6"/>
<ellipse cx="1033" cy="953.2" rx="10" ry="10.6"/>
<ellipse cx="1039.8" cy="953.2" rx="10" ry="10.6"/>
<ellipse cx="1221.7" cy="953.2" rx="10" ry="10.6"/>
<ellipse cx="1230.6" cy="953.2" rx="10" ry="10.6"/>
<ellipse cx="1238.8" cy="953.2" rx="10" ry="10.6"/>
<ellipse cx="1419" cy="953.2" rx="10" ry="10.6"/>
<ellipse cx="1427.2" cy="953.2" rx="10" ry="10.6"/>
<ellipse cx="1435.3" cy="953.2" rx="10" ry="10.6"/>
<ellipse cx="1615.6" cy="953.2" rx="10" ry="10.6"/>
<ellipse cx="1623.7" cy="953.2" rx="10" ry="10.6"/>
<ellipse cx="1631.8" cy="953.2" rx="10" ry="10.6"/>
<ellipse cx="890.7" cy="976.1" rx="10" ry="10.8" fill="#fca0a0"/>
<ellipse cx="883.1" cy="1059.5" rx="10" ry="10.8" fill="#fca0a0"/>
<ellipse cx="898.8" cy="1054.9" rx="10" ry="10.8" fill="#fca0a0"/>
<ellipse cx="1087.1" cy="1012.4" rx="10" ry="10.8" fill="#fca0a0"/>
<ellipse cx="1087.1" cy="1081" rx="10" ry="10.8" fill="#fca0a0"/>
<ellipse cx="1087.1" cy="1149.1" rx="10" ry="10.8" fill="#fca0a0"/>
<ellipse cx="1284.1" cy="975" rx="10" ry="10.8" fill="#fca0a0"/>
<ellipse cx="1291.4" cy="1054" rx="10" ry="10.8" fill="#fca0a0"/>
<ellipse cx="1277.2" cy="1073.4" rx="10" ry="10.8" fill="#fca0a0"/>
<ellipse cx="1480.6" cy="971.7" rx="10" ry="10.8" fill="#fca0a0"/>
<ellipse cx="1480.6" cy="993.2" rx="10" ry="10.8" fill="#fca0a0"/>
<ellipse cx="1480.6" cy="1042.2" rx="10" ry="10.8" fill="#fca0a0"/>
<ellipse cx="1677.6" cy="942.1" rx="10" ry="10.8" fill="#fca0a0"/>
<ellipse cx="1684.5" cy="985.9" rx="10" ry="10.8" fill="#fca0a0"/>
<ellipse cx="1670.3" cy="1004.5" rx="10" ry="10.8" fill="#fca0a0"/>
<ellipse cx="943.9" cy="1008.6" rx="10" ry="10.8" fill="#ff0000"/>
<ellipse cx="943.9" cy="1037.8" rx="10" ry="10.8" fill="#ff0000"/>
<ellipse cx="943.9" cy="1169" rx="10" ry="10.8" fill="#ff0000"/>
<ellipse cx="1133.4" cy="1074.1" rx="10" ry="10.8" fill="#ff0000"/>
<ellipse cx="1147.8" cy="1092.6" rx="10" ry="10.8" fill="#ff0000"/>
<ellipse cx="1140.9" cy="1193.7" rx="10" ry="10.8" fill="#ff0000"/>
<ellipse cx="1337.6" cy="1028" rx="10" ry="10.8" fill="#ff0000"/>
<ellipse cx="1337.6" cy="1082.3" rx="10" ry="10.8" fill="#ff0000"/>
<ellipse cx="1337.6" cy="1170.3" rx="10" ry="10.8" fill="#ff0000"/>
<ellipse cx="1533.7" cy="1003.3" rx="10" ry="10.8" fill="#ff0000"/>
<ellipse cx="1541.4" cy="1066.1" rx="10" ry="10.8" fill="#ff0000"/>
<ellipse cx="1526.8" cy="1078.3" rx="10" ry="10.8" fill="#ff0000"/>
<ellipse cx="1723" cy="992.4" rx="10" ry="10.8" fill="#ff0000"/>
<ellipse cx="1738.3" cy="994.4" rx="10" ry="10.8" fill="#ff0000"/>
<ellipse cx="1730.2" cy="1075.4" rx="10" ry="10.8" fill="#ff0000"/>
<text x="842.95" y="1276.2" font-size="39.6">ELF3</text>
<text x="1012.11" y="1276.2" font-size="39.6">GPR110</text>
<text x="1189.29" y="1276.2" font-size="39.6">CEACAM6</text>
<text x="1429.95" y="1276.2" font-size="39.6">LCN2</text>
<text x="1612.35" y="1276.2" font-size="39.6">MACCI</text>
<circle cx="1822.2" cy="995.2" r="11"/>
<circle cx="1822.2" cy="1029.7" r="11" fill="#fca0a0"/>
<circle cx="1822.2" cy="1095.7" r="11" fill="#ff0000"/>
<text x="1848.3" y="1005.3" font-size="28">NTsh</text>
<text x="1848.23" y="1039.8" font-size="28.9">ELF3sh-1</text>
<text x="1845.06" y="1065.4" font-size="23.3">(p=0.0004)</text>
<text x="1848.17" y="1105.8" font-size="29.6">ELF3sh-2</text>
<text x="1845.07" y="1131" font-size="23.1">(p&lt;0.0001)</text>
</svg></body></html>
